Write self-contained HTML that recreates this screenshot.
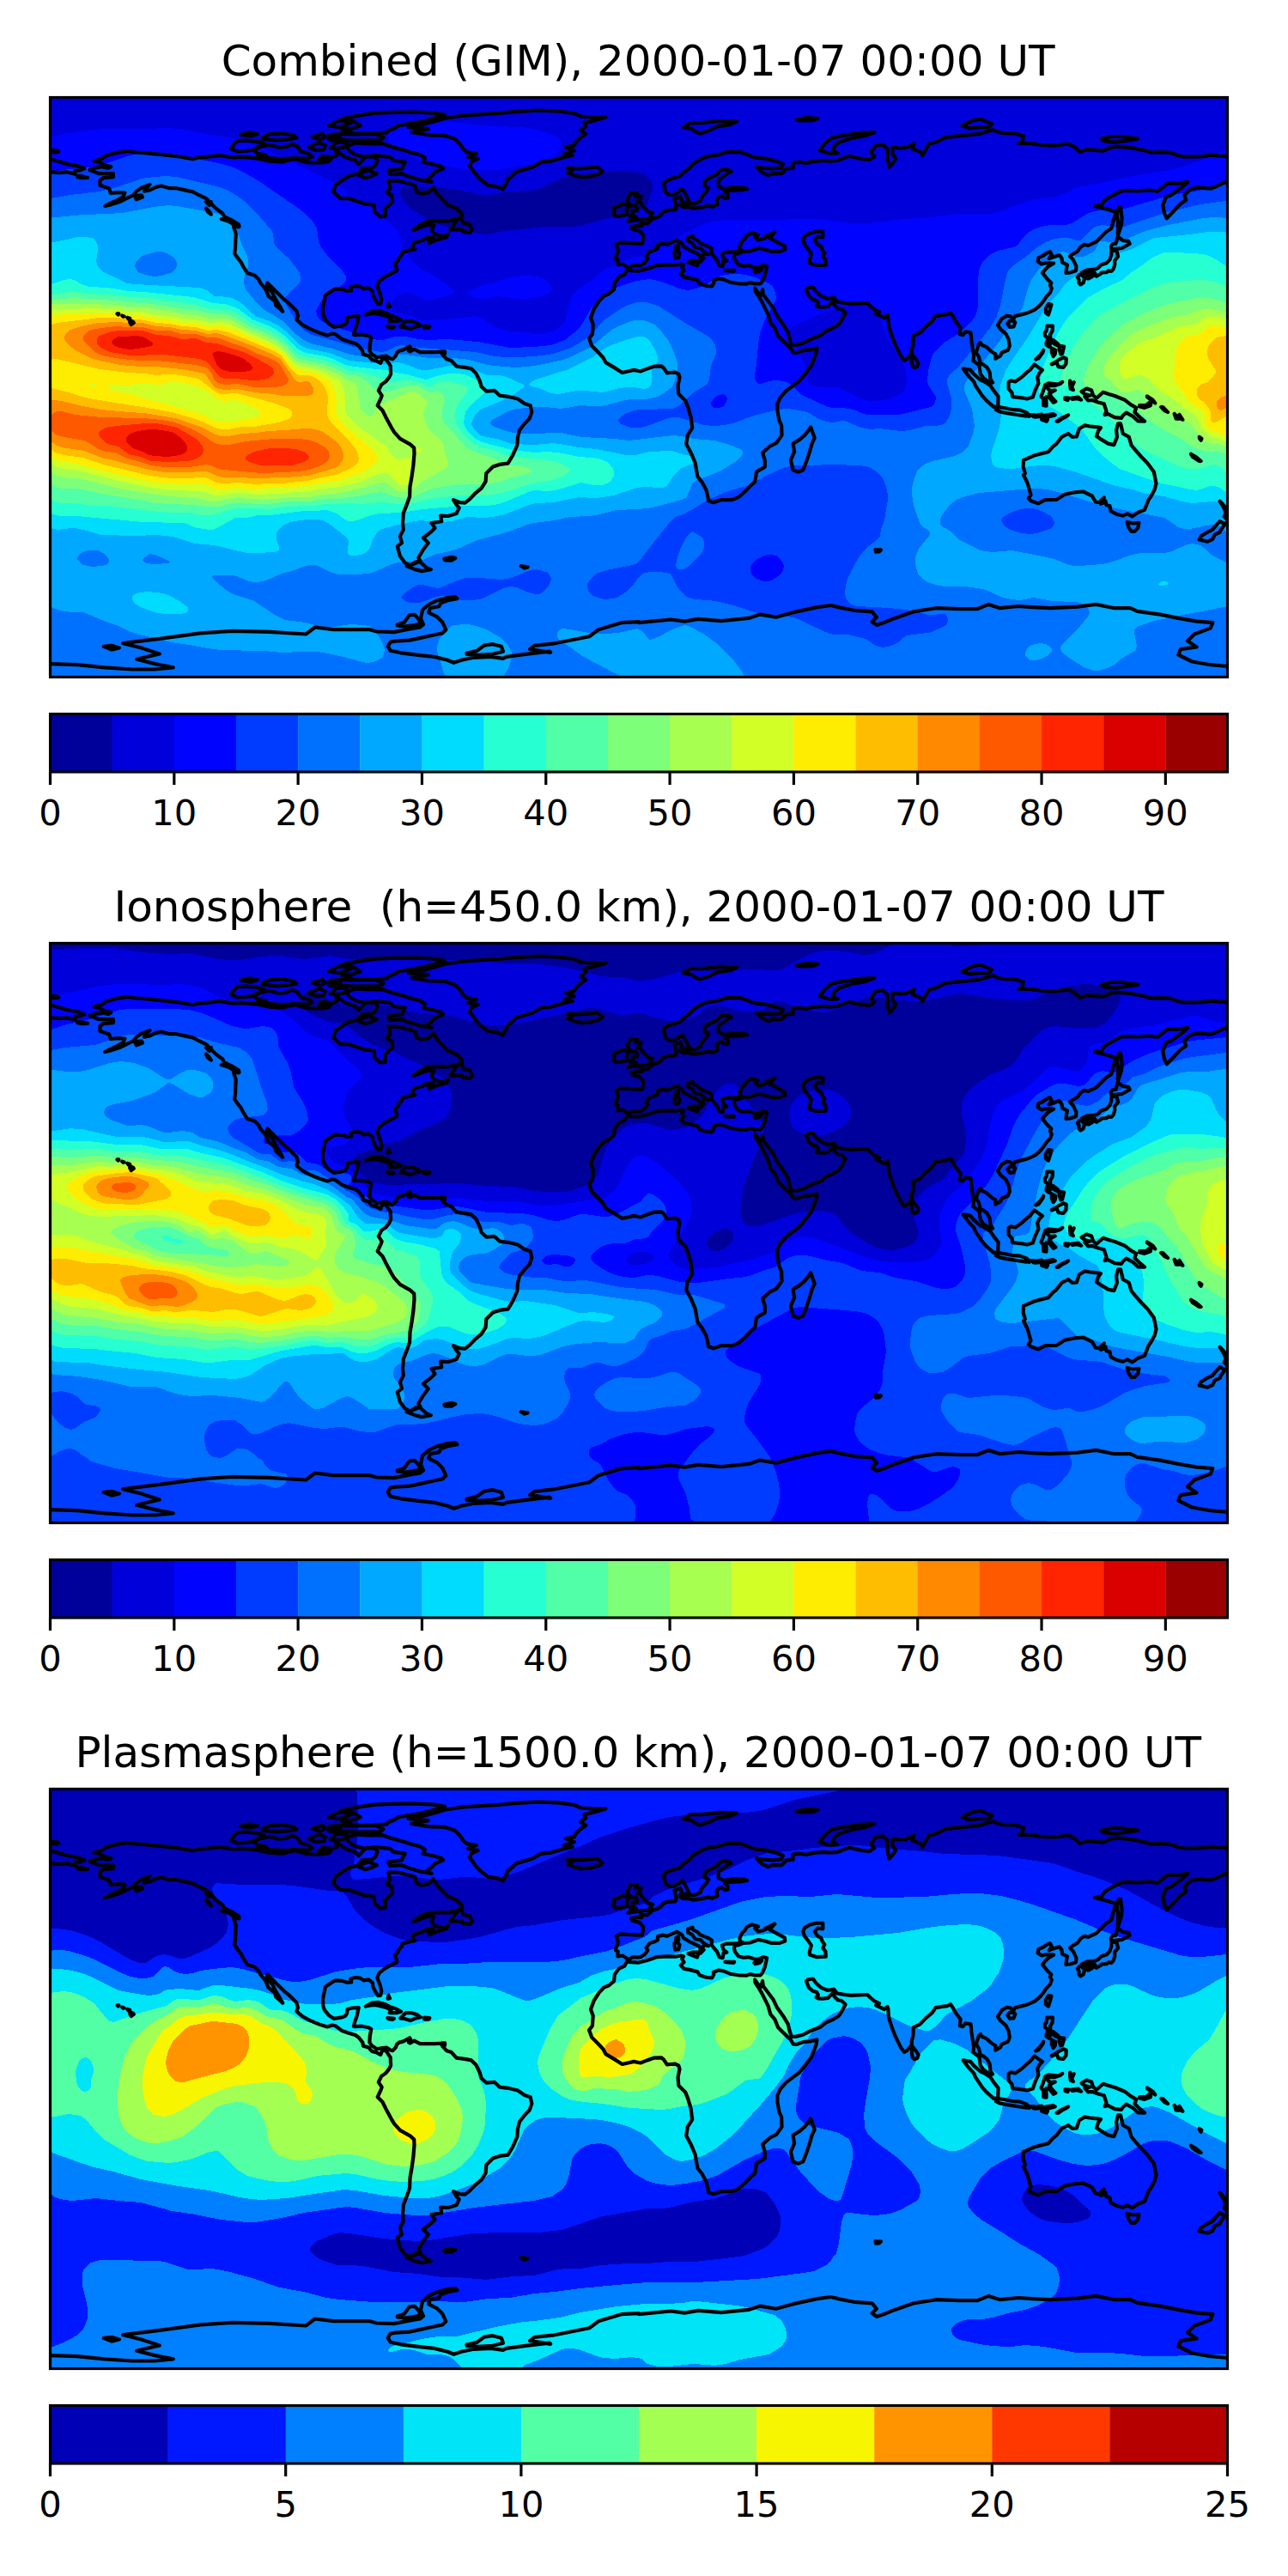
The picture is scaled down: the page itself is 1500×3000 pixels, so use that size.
<!DOCTYPE html>
<html><head><meta charset="utf-8"><title>GIM maps</title>
<style>
html,body{margin:0;padding:0;background:#fff;}
svg{display:block;}
.tt{font-family:"DejaVu Sans","Liberation Sans",sans-serif;font-size:50px;text-anchor:middle;fill:#000;}
.tl{font-family:"DejaVu Sans","Liberation Sans",sans-serif;font-size:41.67px;text-anchor:middle;fill:#000;}
</style></head><body>
<svg xmlns="http://www.w3.org/2000/svg" width="1500" height="3000" viewBox="0 0 1500 3000"><defs><clipPath id="m0"><rect x="58.5" y="113.5" width="1371" height="675"/></clipPath><clipPath id="m1"><rect x="58.5" y="1098.5" width="1371" height="675"/></clipPath><clipPath id="m2"><rect x="58.5" y="2083.5" width="1371" height="675"/></clipPath></defs><defs><clipPath id="mc"><rect x="58.5" y="113.5" width="1371" height="675"/></clipPath>
<path id="coast" fill="none" stroke="#000" stroke-width="4.2" stroke-linejoin="round" stroke-linecap="round" d="M104.5 198 110.6 195.7 118.4 194.1 126.1 196 129.2 194.1 121.5 192.2 114.9 188.7 109.5 187.4 118.4 184.9 124.2 181 135.7 177.9 148.1 176 158.9 177.5 166.6 177.9 178.2 179.1 193.7 180.6 209.1 182.5 224.6 185.2 232.3 183.3 240 182.9 255.5 181 267 182.9 272.8 183.3 278.6 182.9 290.2 183.3 301.8 184.9 313.4 187.6 328.8 188.7 336.6 186.4 344.3 185.2 355.9 188.7 363.6 189.5 375.2 189.5 382.9 187.9 386.8 182.9 392.6 181 390.6 174.1 398.4 180.2 402.2 182.9 413.8 186.8 417.7 191.4 423.5 184.9 427.3 181.8 437 182.9 439.7 186.4 437 192.6 433.1 195.7 421.5 196.4 417.7 202.2 406.1 205.3 398.4 209.9 390.6 215.7 388.3 223.4 396.4 231.1 406.1 231.1 417.7 235 425.4 237.7 435.8 238.5 436.2 246.6 442.8 252.4 448.6 252 448.6 242.7 457.1 235 456.3 227.3 450.5 224.2 454.4 219.6 452.4 210.7 464 210.7 475.6 213.8 483.3 215.7 485.2 223.4 491 225.4 498.8 224.2 504.6 218.4 510.4 227.3 516.1 233.1 521.9 238.9 531.6 242.7 537.4 248.5 538.2 252.4 531.6 255.1 521.9 257.4 506.5 257.4 496.8 258.1 489.1 262 481.4 267.8 487.2 265.9 498.8 261.6 505.3 262.4 502.6 267.8 504.6 271.6 510.4 274 518.1 275.1 521.9 272.8 520 276.3 508.4 279.4 499.9 283.2 498.8 279.4 504.6 276.3 496.8 276.7 493 279.4 487.2 281.3 482.5 282.8 480.6 286.3 481.4 289.8 483.3 290.2 477.5 291.3 468.6 293.6 467.9 296.7 464.4 301 463.6 303.3 460.1 307.1 462.1 312.9 462.1 315.2 458.2 317.2 452.4 320.2 447.8 322.9 441.6 327.6 439.3 333.4 442.4 341.1 444.3 348.8 443.2 353.8 440.4 354.2 437.7 350.3 434.3 343.8 433.9 339.1 429.2 335.3 423.8 336.4 419.6 333.7 413.8 333 408.4 334.5 409.2 338.4 404.1 338.8 398.4 336.8 390.6 336.4 386.8 338.4 379 343.8 377.5 350.7 376 358.4 376.3 366.1 377.9 370.8 382.9 376.9 388.7 380.8 398.4 379.3 402.2 377.7 404.1 374.6 404.5 370 409.9 368.5 417.7 368.1 416.1 375.8 414.6 380.8 413 385.4 411.9 389.7 413.8 390.1 421.5 389.7 429.2 391.2 432.3 393.1 430.8 400.9 430.4 408.6 433.1 412.4 438.9 416.3 445.1 415.1 450.5 414.7 454.7 417.4 457.4 418.2 460.9 414.4 462.1 410.9 464.8 408.6 469.8 407.4 474.8 404.7 477.1 403.2 478.3 405.5 476 408.6 477.5 409.3 482.5 406.6 489.1 410.1 498.8 410.1 506.5 410.1 514.2 409.7 515.4 413.2 520 418.2 525.8 420.1 531.6 426.7 541.2 427.9 549 429.4 554.4 434.8 558.6 443.3 560.6 450.2 566.3 455.6 576 454.9 581.8 460.6 591.5 461.8 603 464.5 610.8 469.9 617.7 472.2 619.3 479.9 616.6 487.6 610.8 493.4 605 501.1 603 508.9 602.3 518.5 597.2 530.1 591.5 539.7 581.8 540.9 574.1 543.6 566.3 551.3 565.6 560.9 560.6 568.6 552.8 575.2 547 581.4 541.6 585.6 535.5 585.2 528.1 582.1 531.6 587.9 534.7 591.4 531.6 598 521.9 601 513.1 600.7 514.2 607.2 502.6 609.1 506.5 614.9 502.6 618.8 493 626.5 498.8 632.3 493 640 487.2 649.6 489.5 653.1 483.3 654.7 477.5 658.5 471.7 655.4 465.9 647.7 462.8 636.1 467.9 632.3 465.9 624.6 469.8 616.9 469 609.1 469.8 597.6 473.7 587.9 477.1 578.3 477.5 566.7 479.5 555.1 481.4 541.6 482.5 528.1 482.2 521.6 477.5 517.3 465.9 510.8 459 503.1 455.5 497.3 449.3 485.7 445.5 478 439.7 472.2 443.5 464.1 444.7 460.6 440.8 454.9 444.3 447.9 449.3 444.4 453.2 439.4 455.1 435.6 454.7 425.9 452.4 422.8 450.5 419.4 446.6 416.7 444.7 419.4 443.2 422.8 438.1 420.1 433.1 419 429.2 414.4 423.1 412.8 422.3 408.6 417.7 402.8 413.8 400.1 406.1 397.8 398.4 395.1 390.6 389.3 386.8 388.5 381 390.4 373.3 388.1 367.5 385.8 359.7 382.3 352 378.1 345.4 372.3 347 368.1 345.4 362.3 336.6 353.4 330.8 348.8 325 343 319.2 337.2 311.5 329.5 310.3 333.4 317.3 341.1 321.1 348.8 326.5 357.7 329.2 362.7 326.9 360.4 321.1 355.3 320.3 350.7 312.6 344.9 309.5 337.2 303.3 329.5 301.4 325.6 296.4 320.6 287.9 317.9 282.9 309.8 280.6 305.2 275.5 298.6 273.2 295.2 274 289 274.4 279.4 274.8 272.4 272.1 264.3 278.6 263.9 277.9 261.2 270.9 257 261.3 252.4 259.3 248.5 251.6 242.7 247.7 238.9 240 231.1 230.4 226.5 224.6 223.4 214.1 221.1 205.3 219.2 197.5 219.2 187.9 216.5 182.1 217.6 174.4 221.5 167.8 222.7 174.4 214.9 164.7 218.8 158.9 222.7 155 227.3 147.3 231.1 139.6 235 129.9 238.1 122.2 240 128 236.9 135.7 233.5 143.5 229.2 145.4 224.6 137.7 224.2 128.8 225 127.2 219.6 116.4 215.7 116.4 209.9 120.3 207.2 131.9 206.1 131.9 202.2 124.2 202.2 114.9 202.2 110.6 200.3 104.5 198M879.2 335.7 879.6 339.1 883.4 344.9 886.9 350.7 890.8 358.4 894.6 366.1 897.3 375.8 902.3 381.6 906.2 391.2 912 397 917.8 402.8 920.9 405.5 923.6 410.5 927.4 410.9 935.2 408.2 942.9 407.4 951.4 405.5 950.6 410.9 948.7 416.3 944.8 425.9 939 433.6 931.3 443.3 923.6 449.1 915.9 454.9 908.9 462.6 905.4 470.3 905.4 478 907.4 489.6 910.1 495.4 910.5 506.9 904.3 515.8 896.5 519.7 888.1 527.4 890.8 535.9 890.8 543.6 881.1 549.4 880.3 554.4 879.2 560.9 873.4 566.3 867.6 572.5 859.9 579.1 852.5 582.1 840.5 582.1 830.9 585.2 825.1 583.3 824.3 578.3 822.4 570.6 817.4 561.3 812.4 555.1 809.7 539.3 805 528.1 799.2 517.3 800.8 506.9 806.2 498.4 804.6 485.7 801.2 474.1 798.1 466.4 790.3 458.7 789.6 449.1 791.5 439.4 790.3 435.6 786.5 433.6 780.7 434 776.8 434.4 773 428.6 770.3 426.3 761.4 426.7 753.7 429.4 745.9 432.5 738.2 430.9 724.7 434 715 427.9 705.4 422.1 702.3 416.3 695.7 409.3 689.2 402.8 686.1 394.3 689.9 389.3 690.7 377.7 688 370 691.9 359.6 697.7 350.7 703.4 344.5 709.2 342.2 715 337.2 715.8 329.5 720.8 322.6 727.4 319.5 730.9 312.9 734.3 315.2 744 315.6 753.7 312.9 765.2 309.1 776.8 308.3 786.5 308.7 793 307.5 796.1 308.3 794.2 311.4 796.5 315.2 792.7 318.7 796.9 322.9 803.9 324.1 812.4 326.4 814.7 330.3 823.2 333 829.3 333.4 831.3 329.5 830.9 326.8 836.7 324.5 842.5 325.3 850.2 328.7 859.9 330.3 869.1 330.7 873.4 329.1 878.4 330.3 885.7 330.3 888.1 327.2 890.8 320.6 892.3 314.1 893.1 310.2 888.8 309.1 885 311 879.2 311.8 871.8 309.1 865.7 309.8 859.9 308.3 856 302.9 854.8 298.6 856 295.9 859.9 295.2 865.7 292.9 873.4 292.5 883 289 890.8 290.5 898.5 292.9 908.1 292.9 914.3 290.5 913.9 286.7 908.1 283.6 900.4 279.4 896.5 277.4 902.3 270.5 890.8 275.9 892.7 276.3 888.8 278.2 883 279.4 879.2 275.9 883 273.6 875.3 271.3 869.5 274.3 868 277.4 864.1 281.3 861.4 287.1 861.8 290.5 865.7 292.5 854.1 293.6 846.3 293.6 842.5 294.8 840.9 295.6 842.5 300.6 846.3 303.7 842.5 304.8 841.7 310.2 837.5 309.1 835.9 304.8 834.8 302.5 831.7 299 828.6 294.8 829 289.8 825.1 287.1 815.4 283.2 812.4 280.1 806.6 277 806.6 274.7 801.2 276.3 801.2 280.5 805.8 282.8 809.7 288.2 816.2 289.4 819.3 292.9 825.1 296.3 820.1 295.2 817.4 298.6 819.7 300.6 815.8 304.8 814.3 303.3 816.2 300.6 813.9 296.3 809.7 294.4 803.9 291.7 800.8 289.8 796.1 287.1 794.2 283.2 788.4 279.7 782.6 282.1 776.8 284.8 772.2 283.6 766 285.1 766 289.4 762.2 291.3 756.7 292.9 752.5 298.6 754.4 301.3 751 306 745.5 309.4 736.7 309.4 732 312.1 729.3 310.2 725.1 307.5 719.3 308.3 719.7 302.5 717 301.3 717.4 298.6 719.7 292.9 719.3 289 717.7 285.1 722.8 282.4 734.3 283.2 742.1 283.6 747.9 283.6 749 279 749 273.6 744.8 268.9 736.3 266.6 735.1 264.3 742.1 262.8 747.5 263.2 746.3 259.3 749.8 260.5 754.4 260.1 759.8 254.7 765.2 253.1 769.1 250.8 772.2 247 776.8 245 780.7 244.6 786.5 244.3 787.3 242.7 786.9 236.9 785.3 231.9 792.3 228.8 794.2 233.1 791.5 238.9 795.8 241.2 801.9 241.2 807.7 242.7 815.4 241.6 825.1 239.6 829.3 240.8 835.5 238.1 834.8 233.1 836.7 229.2 840.9 228.4 844.4 231.1 847.9 230.4 847.5 226.1 844.4 223.8 849 221.9 861.8 221.5 870.3 220 865.7 218.8 856 218 842.5 220 836.7 216.9 836.7 209.9 848.3 201.1 851.7 199.9 846.3 197.2 839.4 198 834.8 203.4 827 206.8 821.2 210.7 820.1 215.7 825.1 218.8 823.2 222.3 817.4 229.2 815.4 234.2 808.5 237.3 803.5 236.9 801.9 233.1 799.6 228.4 796.9 223.4 794.2 220 790.3 223.4 784.6 226.9 778.8 226.5 774.9 223.4 773.7 218 773 213.8 776.8 209.9 784.6 207.2 792.3 204.9 796.1 200.7 801.9 196.4 807.7 190.6 813.5 186.8 821.2 182.9 827 181.8 836.7 180.2 846.3 177.1 853.3 176.8 861.8 177.1 871.4 180.2 875.3 182.2 881.1 183.7 892.7 184.9 904.3 187.9 912 191 910.1 195.3 900.4 196.4 888.1 195.7 881.1 194.1 886.9 200.3 894.6 204.1 900.4 201.8 910.1 202.2 915.9 196.4 923.6 195.7 923.6 189.5 931.3 188.7 939 189.9 946.8 187.9 960.3 186.8 966.1 187.6 975.7 186.8 985.4 182.9 989.2 181.8 1002.8 184.9 1012.4 186 1018.2 182.2 1014.3 177.1 1020.1 169.4 1027.9 168.3 1033.6 173.3 1033.6 184.9 1035.6 194.5 1039.4 190.6 1043.3 184.9 1039.4 179.1 1039.4 171.4 1047.2 172.5 1054.9 172.1 1064.5 167.5 1062.6 173.3 1072.3 177.1 1074.2 181 1081.9 167.5 1089.6 165.6 1101.2 159.8 1120.5 157.9 1139.9 155.9 1156.5 151.3 1163 154 1170.7 155.2 1182.3 155.5 1192 158.6 1190.1 165.6 1186.2 166.7 1201.6 167.1 1213.2 169 1228.7 169.4 1244.1 167.5 1251.8 171.4 1257.6 177.1 1265.4 174.1 1275 174.8 1284.7 175.6 1294.3 171.4 1302.1 170.6 1317.5 172.1 1333 175.2 1340.7 177.5 1352.3 177.1 1363.8 177.9 1371.6 181 1379.3 182.5 1390.9 182.5 1402.5 181.8 1410.2 180.6 1417.9 181.4 1429.5 181.8 1443 183.3 1448.8 185.2M58.5 185.2 68.2 187.9 77.8 191 89.4 193 97.1 195.7 98.3 196.4 93.3 198.4 87.5 198.7 87.5 202.6 77.8 200.3 68.2 201.1 62.4 200.3 58.5 200.3M1448.8 200.3 1443 202.2 1439.2 209.9 1425.6 212.6 1417.9 216.5 1410.2 219.6 1394.7 218.4 1387 220.3 1383.2 223.4 1379.3 227.3 1381.2 233.1 1375.4 236.9 1371.6 240.8 1365.8 247 1358.8 254.3 1356.1 248.5 1354.2 238.9 1358.1 229.2 1363.8 227.3 1371.6 221.5 1377.4 217.6 1383.2 211.9 1371.6 213.8 1360 213.4 1348.4 222.7 1336.8 221.5 1325.2 222.3 1313.6 221.9 1305.9 222.3 1296.3 227.3 1286.6 233.1 1282.7 238.9 1275 240 1288.5 243.5 1298.2 246.6 1299.4 248.5 1296.3 258.1 1294.3 265.9 1288.5 269.7 1282.7 275.5 1277 281.3 1267.3 285.9 1262.7 284.8 1258.4 287.8 1254.6 292.9 1248 296.7 1246.1 298.6 1249.9 302.5 1253.4 310.2 1253 315.2 1246.1 317.5 1241.4 317.9 1242.2 312.1 1243 308.3 1237.2 305.6 1236.4 300.6 1233.7 297.1 1226.7 299.4 1221.7 301.3 1224.8 296.7 1222.9 293.2 1219 294.8 1215.2 297.5 1209.4 300.2 1208.6 304.4 1213.2 307.5 1217.1 306.4 1222.9 306.4 1227.1 306.7 1221 310.2 1217.1 314.1 1214 317.9 1220.2 325.6 1224.4 329.5 1222.9 332.2 1224.8 335.7 1222.9 341.1 1219 344.9 1215.2 350.7 1211.3 355.3 1205.5 360.4 1199.7 363.1 1194.7 365 1190.1 366.1 1182.3 368.1 1179.6 372.7 1177.3 368.5 1172.7 367.7 1166.9 370.8 1165 373.9 1161.9 378.5 1165.3 383.5 1171.5 388.9 1174.6 395.1 1175.8 402.8 1173.8 407.8 1166.9 410.5 1165 414.4 1159.2 417.8 1159.5 412.4 1156.1 410.5 1151.4 406.6 1148.7 403.9 1143.7 402 1141.8 398.9 1139.9 400.9 1136.8 410.5 1139.9 415.5 1141.8 423.2 1145.6 424.8 1149.5 427.9 1152.6 433.6 1153.4 441.4 1156.1 445.6 1153.4 446 1149.5 443.3 1144.9 439.8 1141.8 435.6 1141 429.8 1140.6 425.9 1138.7 424 1133.3 420.1 1134.1 414.4 1132.9 406.6 1131.4 397 1130.6 387.4 1124.4 386.2 1121.3 390.1 1117.8 389.3 1118.6 381.6 1112.8 373.9 1109.7 368.1 1107 364.2 1103.2 366.1 1097.4 366.9 1089.6 368.1 1085.8 373.9 1078.1 380.4 1071.5 387.4 1063.8 391.2 1063.4 400.9 1061.8 406.6 1061.8 411.7 1058.8 415.1 1055.7 418.6 1053 419.8 1049.1 414.4 1045.2 406.6 1042.5 400.9 1038.7 391.2 1035.6 381.6 1034.8 377.7 1034.4 370 1033.6 366.9 1029.8 370 1020.1 365.4 1024 363.1 1018.2 360.4 1012.4 355.3 1010.5 353 1000.8 353.4 991.2 353.8 981.5 352.6 974.9 351.5 971.1 346.5 964.1 348 956.4 344.9 950.6 339.9 946.8 334.5 941 335.3 939 337.2 942.1 344.9 946.8 348.8 951.4 350.3 952.9 353.4 950.6 356.1 952.5 357.3 958.3 357.7 964.1 356.9 968 353 971.1 349.9 971.5 355 975.7 359.2 980 360 984.6 364.2 980.7 371.9 976.9 377.7 969.9 382 962.2 385.4 955.2 390.8 944.8 394.7 935.2 399.7 927.4 401.6 921.7 402 919.3 393.9 917.8 387.4 912 377.7 905 368.1 900.4 358.4 894.6 350.7 888.8 343 888.1 337.2 886.1 343.8 883 341.1 879.2 335.7M935.2 279.4 937.1 285.1 941 289.8 944.8 295.6 942.9 302.5 942.9 306.4 950.6 309.1 961.8 308.7 961.4 302.5 958.3 298.6 960.3 294.8 957.6 290.9 956.4 287.1 951.8 284.4 948.7 279.4 952.5 275.5 958.3 276.3 958.3 269.7 950.6 269.7 942.9 271.6 937.1 275.1 935.2 279.4M58 773.1 89.9 774.2 121.9 777.4 153.8 779.5 180.5 779.5 201.8 777.4 180.5 773.1 159.2 767.8 185.8 761.4 164.5 754.5 143.2 749.2 185.8 743.8 233.7 737.4 271 734.8 313.6 735.8 356.2 738.5 366.8 730.5 388.1 733.2 430.7 733.2 438.5 735.5 458.7 736.1 474.9 732.9 489 730.5 493 727.4 490 720.4 492 710.3 499.1 704.2 509.2 699.2 521.3 696.1 530.4 695.1 532.4 697.2 521.3 699.2 513.2 702.2 511.2 706.2 501.1 708.3 499.1 713.3 509.2 718.4 515.2 724.4 519.3 733.5 515.2 737.5 505.2 739.5 491 742.6 476.9 745.6 460.7 746.6 454.7 747.6 451.7 752.7 454.7 757.7 466.8 760.3 487 762.8 505.2 764.8 521.3 768.8 528.4 771.8 537.4 768.8 551.6 765.8 571.8 764.8 585.9 766.8 589.9 764.8 612.1 761.8 640 758.7 641.1 759.8 617.1 756.1 622.4 751.8 643.7 749.7 686.3 741.2 697 733.2 723.6 725.2 743.8 724.1 744 725.2 781.3 721.5 797.2 723.6 813.2 720.9 839.8 723.1 871.8 719.9 885.1 715.6 903.7 718.8 925 712.9 951.7 707.1 967.6 705 978.3 707.6 994.3 710.8 1015.6 712.4 1020.9 718.8 1015.6 724.1 1020.9 727.9 1028.9 725.2 1042.2 719.9 1063.5 712.4 1090.1 708.2 1116.7 709.2 1138 709.2 1151.3 703.9 1164.7 708.2 1186 706 1201.9 707.1 1223.2 708.2 1255.2 706.6 1276.5 703.9 1297.8 708.2 1316.4 708.2 1324.4 711.9 1351 715.6 1372.3 719.9 1393.6 723.6 1412.3 725.2 1409.6 731.6 1391 738.5 1383 746.5 1393.6 753.4 1375 756.1 1372.3 762.5 1388.3 770.5 1409.6 774.2 1433.6 776.3M462.8 727.4 470.8 724.8 476.9 716.3 482.9 715.9 487 720.4 490 726.4 480.9 728.4 470.8 729.5 462.8 728.4 462.8 727.4M543.5 760.7 555.6 757.7 563.7 751.7 573.8 750.2 583.9 752.7 585.9 758.7 573.8 761.8 557.6 762.8 543.5 761.8 543.5 760.7M120.8 752.9 129.9 751.8 138.9 754.5 129.9 756.6 120.8 752.9M269 173.3 272.8 167.5 276.7 164 286.4 163.6 299.9 164.8 307.6 167.5 301.8 170.6 294.1 174.8 284.4 176 276.7 176.4 269 173.3M296 175.2 299.9 178.7 309.5 180.2 299.9 181.4 315.3 184.1 328.8 185.2 344.3 184.1 357.8 184.9 363.6 182.5 359 178.7 350.1 176.4 346.2 170.2 340.4 167.9 332.7 171 325 171.7 313.4 168.7 301.8 171.4 296 175.2M280.6 156.7 290.2 154.4 299.9 156.3 292.1 158.6 280.6 156.7M305.7 159.8 313.4 156.3 328.8 155.2 342.4 157.9 345.4 160.6 334.6 162.5 321.1 163.3 305.7 161.7 305.7 159.8M363.6 159.4 375.2 155.9 379 159.4 373.3 162.5 363.6 159.4M382.9 161.7 392.6 160.6 392.6 163.3 384.8 163.3 382.9 161.7M396.4 162.5 413.8 163.6 429.2 163.3 442.8 163.3 446.6 160.2 437 155.9 409.9 156.3 398.4 155.9 382.9 157.1 396.4 159.8 396.4 162.5M409.9 155.9 433.1 155.9 450.5 154.4 452.4 152.1 460.1 149 464 146.3 475.6 144.4 487.2 142.4 498.8 139.7 510.4 136.6 518.1 133.9 504.6 131.6 483.3 130.5 456.3 130.9 437 131.6 421.5 133.9 402.2 137.4 394.5 140.5 413.8 142.4 419.6 146.3 411.9 149.4 398.4 150.9 408 152.8 409.9 155.9M382.9 146.3 396.4 139.7 406.1 138.6 411.9 141.3 404.1 145.5 394.5 148.2 382.9 146.3M384.8 172.1 392.6 165.6 404.1 165.6 401.4 171.4 391.4 173.3 384.8 172.1M359.7 171.4 371.3 166.3 379 169.4 377.1 174.1 367.5 175.2 359.7 171.4M371.3 185.6 382.9 186.8 384.8 182.9 375.2 181.8 371.3 185.6M502.6 211.9 491 209.9 477.5 206.1 467.9 202.2 454.4 203 452.4 198.7 467.9 196.4 471.7 188.7 458.2 186.8 454.4 182.9 444.7 181.8 437 181 425.4 182.9 413.8 180.2 406.1 175.2 404.1 170.2 413.8 166.3 429.2 167.5 444.7 167.1 456.3 171 471.7 175.2 479.5 177.9 489.1 180.2 494.9 184.1 493 188.7 506.5 191.8 514.2 194.1 516.1 196.4 506.5 200.3 502.6 204.9 496.8 209.2 502.6 211.9M417.7 204.1 423.5 200.3 429.2 198.4 438.9 202.2 433.1 204.9 425.4 207.2 417.7 204.1M585.7 220.3 579.9 217.6 568.3 215.7 560.6 209.9 554.8 204.1 550.9 198.4 547 193.3 549 188.7 556.7 184.9 545.1 182.9 554.8 179.1 543.2 177.1 539.3 173.3 535.5 167.5 529.7 161.7 518.1 157.9 498.8 157.1 479.5 154 498.8 150.1 475.6 148.2 494.9 144.4 506.5 141.3 518.1 137.8 537.4 134.7 560.6 133.2 579.9 132 599.2 130.1 626.2 128.5 649.4 129.3 668.7 132 676.4 135.5 691.9 136.6 705.4 136.6 691.9 140.5 680.3 143.2 682.2 147.1 676.4 152.1 682.2 155.9 676.4 159.8 670.6 165.6 668.7 169.4 659 171.4 668.7 175.2 657.1 179.1 666.8 181 657.1 182.9 641.7 187.6 630.1 188.7 620.4 194.5 610.8 197.2 601.1 200.3 597.2 204.1 591.5 208.8 589.5 213.8 585.7 220.3M668.7 204.1 661 201.1 666.8 198.4 661 195.7 674.5 196.4 684.1 195.7 695.7 194.5 701.5 199.5 697.7 202.6 688 205.3 676.4 206.1 668.7 204.1M731.6 257.8 738.2 256.6 747.9 255.4 757.5 254.3 759.1 252.7 756.7 252 760.2 247.7 754.8 246.6 752.9 244.3 747.5 238.9 745.9 235.4 742.1 235 745.9 231.1 746.7 228.8 740.1 228.4 742.1 225 734.3 225 732.4 229.2 730.5 233.1 732.4 236.9 735.1 239.6 740.1 239.2 742.1 242.7 742.1 245.4 736.3 245.4 737.4 249.3 733.6 251.6 740.9 252.7 736.3 254.3 731.6 257.8M730.5 249.7 729.7 244.6 732 240.8 728.6 238.1 724.7 237.7 720.8 240 715 241.9 715.8 244.6 714.3 249.7 717 252 722.8 251.6 730.5 249.7M796.1 148.2 803.9 143.2 817.4 143.2 827 142 838.6 140.9 857.9 141.7 850.2 145.1 834.8 147.4 825.1 152.1 815.4 155.5 809.7 153.2 805.8 150.1 796.1 148.2M954.5 175.2 960.3 167.5 968 160.9 977.6 158.6 989.2 156.7 1000.8 154.8 1018.2 154 1008.5 157.9 991.2 160.9 977.6 165.6 971.9 169.4 969.9 176 975.7 178.3 966.1 178.7 954.5 175.2M1120.5 146.3 1132.1 140.5 1141.8 138.6 1155.3 144.4 1151.4 148.2 1139.9 148.2 1128.3 149.4 1120.5 146.3M1282.7 161.7 1294.3 159 1305.9 159 1317.5 160.6 1325.2 161.7 1313.6 163.6 1298.2 165.6 1286.6 164.4 1282.7 161.7M927.4 139.3 939 137 952.5 137.8 946.8 140.1 931.3 140.5 927.4 139.3M58.5 175.2 66.2 175.2 68.2 176.8 62.4 177.5 58.5 177.1M1294.3 290.9 1299 289.8 1306.7 289 1315.6 284 1314.4 280.9 1307.8 280.1 1301.7 275.5 1300.1 281.3 1299.4 284 1295.5 284.4 1293.9 287.1 1294.3 290.9M1300.1 290.9 1302.1 298.6 1298.2 303.3 1298.2 308.3 1296.6 313.3 1294.3 316 1291.2 315.2 1288.5 317.2 1282.7 317.5 1282 318.7 1277 321.8 1275 317.9 1267.3 317.9 1259.6 319.9 1259.6 317.5 1265.4 314.5 1275 313.7 1278.9 312.1 1282.7 308.3 1288.5 306.4 1292.4 302.5 1294.3 296.7 1294.3 292.9 1300.1 290.9M1265.4 323.7 1267.3 319.9 1273.1 319.1 1273.9 320.6 1271.2 322.6 1267.3 324.5 1265.4 323.7M1254.9 322.9 1256.9 320.2 1259.6 320.2 1263.4 323.7 1261.5 329.5 1258.4 331.4 1256.5 329.5 1256.5 325.6 1254.9 322.9M1302.1 273.6 1304 267.8 1305.9 262 1306.7 254.3 1305.9 248.5 1305.1 241.9 1303.2 241.6 1301.3 246.6 1300.9 252.4 1302.1 258.1 1302.1 265.9 1301.7 271.3 1302.1 273.6M1217.9 364.2 1221 366.5 1222.9 360.4 1224.4 354.6 1221 354.2 1217.9 359.2 1217.9 364.2M1173.5 376.9 1175.8 380.8 1180.4 380.4 1182.3 375.4 1180.4 373.5 1175.8 373.9 1173.5 376.9M1219.4 379.6 1226 379.6 1225.6 385.4 1222.9 390.1 1223.7 395.8 1226.7 396.2 1232.5 400.9 1232.5 402.8 1228.7 400.9 1224 397.8 1219.4 397 1220.6 393.9 1217.1 391.2 1216.7 387.7 1218.6 385.4 1219.4 379.6M1224.8 424 1230.6 420.9 1232.5 419.4 1238.3 416.3 1241.8 417.8 1241.4 424 1238.3 427.9 1232.5 427.1 1230.6 422.1 1225.2 424.4 1224.8 424M1233.7 402.8 1239.1 403.6 1237.2 411.7 1235.2 412.4 1233.7 406.6 1233.7 402.8M1224.8 405.5 1229.4 407.8 1228.7 412.4 1226.7 415.1 1224.8 410.5 1224.8 405.5M1218.6 398.9 1222.9 400.9 1221.7 403.9 1218.6 401.6 1218.6 398.9M1206.3 418.6 1211.7 413.2 1215.2 407.8 1214.4 410.5 1209.4 417.4 1206.3 418.6M1121.7 429.4 1130.2 430.9 1134.1 435.6 1141.8 442.5 1145.6 444.1 1153.4 449.1 1157.2 454.9 1162.6 461.8 1162.3 468.4 1162.3 473.4 1157.2 473.8 1148.7 466.4 1143.7 460.6 1139.9 454.9 1136 449.1 1134.1 444.4 1128.3 438.3 1121.7 429.4M1159.9 477.2 1163 474.1 1170.7 475.3 1180.4 477.2 1188.1 477.6 1195.9 480.7 1195.5 484.6 1184.3 483 1172.7 481.1 1164.6 479.5 1159.9 477.2M1197.8 482.6 1200.5 483.4 1198.6 484.9 1197.8 482.6M1201.6 483.4 1204.3 483 1203.6 485.3 1201.6 483.4M1205.5 483.8 1213.2 482.6 1213.2 484.9 1205.5 485.7 1205.5 483.8M1216.3 483.8 1226.7 482.2 1228.7 483.4 1222.9 484.9 1216.3 484.9 1216.3 483.8M1213.2 487.6 1220.2 488 1219 490.7 1213.2 488.8 1213.2 487.6M1230.6 490.7 1236.4 486.9 1244.1 483.4 1242.2 484.9 1236.4 488 1232.5 490.7 1230.6 490.7M1174.6 445.2 1176.9 443.3 1182.3 444.4 1190.1 439 1195.9 433.6 1199.7 430.6 1204.7 424.4 1209.4 427.9 1214 430.9 1210.5 434.4 1208.2 439.4 1209.4 446.4 1207.4 450.2 1205.1 455.6 1202.8 462.6 1195.9 464.5 1190.1 463.3 1184.3 462.6 1179.2 462.2 1178.5 457.2 1174.6 452.9 1174.6 445.2M1215.2 472.2 1218.6 472.6 1218.3 462.2 1221 461.4 1226.7 468.7 1229.4 467.6 1224.8 462.6 1222.1 458.3 1228.7 454.5 1222.9 455.2 1217.9 449.8 1219 449.1 1228.7 449.1 1234.5 447.1 1237.2 444.8 1232.5 447.5 1221 446.4 1217.1 448.3 1216.3 451.4 1214.4 456.8 1212.5 461.8 1215.2 464.5 1215.2 472.2M1246.1 443.7 1248 447.1 1250.7 445.2 1248 451 1249.9 454.1 1246.8 452.9 1246.1 447.9 1246.1 443.7M1248 463.7 1255.7 462.6 1259.2 465.7 1253.8 464.1 1248.8 464.9 1248 463.7M1240.3 463.3 1244.9 463.7 1243.4 466 1240.3 464.9 1240.3 463.3M1259.6 456 1265.4 452.5 1271.2 454.5 1273.1 460.6 1277 463.7 1284.7 456.8 1290.5 458.7 1298.2 461 1309.8 465.7 1316.7 471.1 1323.3 474.9 1321.4 479.9 1327.2 485.7 1333 490.7 1325.2 490.3 1319.4 484.9 1311.7 480.7 1307.8 483.8 1305.9 486.9 1298.2 486.1 1290.5 482.2 1286.6 483 1288.5 478.8 1285.8 470.3 1278.9 468.4 1271.9 466 1267.3 466.4 1263.4 461.8 1269.2 460.6 1263.4 459.1 1259.6 456M1327.2 472.2 1334.9 471.8 1340.7 467.2 1339.9 472.2 1333 474.9 1327.2 473.4 1327.2 472.2M1336 461.4 1342.6 465.7 1345.3 469.5 1342.2 466.8 1336 462.2M1352.3 474.1 1354.2 474.1 1360 479.9 1356.1 478 1352.3 474.1M1367.7 481.9 1373.5 487.6 1369.6 487.6 1367.7 481.9M1373.5 483 1377.4 488.8 1375.4 487.6 1373.5 483M1396.7 508.9 1399.4 510.8 1398.6 512.7 1397.1 510.8 1396.7 508.9M1387 528.9 1392.8 532 1398.6 537 1396.7 537 1388.9 532 1387 528.9M1061.8 420.1 1062.6 413.2 1066.5 418.2 1069.6 422.8 1068.4 426.7 1064.9 428.2 1062.6 425.9 1061.8 420.1M944.1 497.3 948.7 510 945.6 516.6 942.9 526.2 939 537.8 935.2 547.4 929.4 549.7 923.6 547.4 920.9 535.9 925.1 526.2 923.6 516.6 931.3 511.9 937.1 506.9 941.7 501.1 944.1 497.3M1019.4 640 1025.9 640.4 1024 642.3 1020.1 642.7 1019.4 640M1192 535.9 1193.9 535.1 1204.3 530.5 1213.2 528.1 1221 526.2 1226 520.4 1230.6 516.6 1236.4 508.9 1244.1 505 1248.8 508.9 1253.8 508.5 1256.9 499.2 1263.4 495.4 1269.2 496.5 1278.1 497.3 1282 498.1 1278.9 502.3 1277 508.1 1282.7 511.9 1290.5 516.6 1297.4 518.1 1300.9 508.9 1300.1 501.1 1302.1 493.4 1305.1 493.4 1307.8 505 1314.8 508.9 1317.5 518.5 1323.3 525.4 1329.1 532 1336 538.9 1343.8 549.4 1345.3 557.1 1346.5 562.9 1344.5 570.6 1340.7 577.5 1337.6 582.1 1333 593.7 1325.2 596.8 1318.7 601.4 1312.9 598.3 1307.8 600.7 1300.1 598.7 1293.6 595.3 1292.4 589.1 1288.5 588.3 1287.4 583.3 1284.7 586 1282 586.8 1285.8 579.4 1279.7 585.2 1275.8 584.5 1271.9 577.5 1261.5 572.5 1251.8 573.3 1240.3 575.6 1230.6 581.8 1217.1 582.1 1209 586.4 1200.5 583.3 1197.8 580.6 1200.5 576.4 1197.8 566.7 1196.2 561.7 1192 553.2 1193.9 551.3 1191.6 543.6 1192 535.9M1312.5 608 1319.4 609.5 1326.4 608.8 1325.2 614.9 1321.4 618.8 1317.5 618.8 1314.4 614.2 1312.5 608M1420.6 583.7 1423.7 586.8 1427.6 591.8 1430.7 593.7 1433.4 596 1443 596.4 1441.1 602.6 1436.5 605.3 1430.3 611.5 1428 609.9 1429.5 605.3 1425.6 601.4 1427.6 597.6 1425.6 591.8 1420.6 583.7M1420.6 607.2 1426.8 610.3 1421.8 616.9 1420.6 619.9 1414.8 622.6 1412.1 628 1406.3 630.7 1396.7 628.4 1398.6 624.6 1404.4 620.7 1412.1 616.9 1416 612.2 1420.6 607.2M425.8 366.5 433.1 362.7 440.8 361.9 448.6 364.2 454.4 367.3 461.3 369.6 467.1 372.7 461.7 374.2 453.6 374.2 455.5 371.5 450.5 368.1 442.8 366.1 437 365 431.6 365.4 425.8 366.5M466.3 380.4 472.5 374.2 479.5 374.2 486.4 376.6 489.9 379.3 483.3 380.8 477.9 383.1 470.2 380.8 466.3 380.4M451.3 380 459 380.8 457.1 382 452.4 381.2 451.3 380M494.1 379.6 500.3 380 499.5 381.6 494.1 381.6 494.1 379.6M452.4 353.8 454 357.3 451.6 357.7 452.4 353.8M514.6 409.3 518.1 409.3 518.1 412 514.6 412 514.6 409.3M524.3 267.4 537.4 267.4 539.3 269.7 547 270.9 550.1 267.8 548.2 264.3 547 261.2 539.3 259.7 537.4 252.4 532.4 256.2 526.6 263.9 524.3 267.4M257.8 255.1 267 258.1 274.8 263.5 277.5 264.3 270.9 260.5 263.2 256.2 257.8 255.1M240 242.7 243.9 246.6 245.8 249.7 241.9 246.6 240 242.7M157 228.1 164.7 227.3 165.9 229.6 158.9 232.3 157 228.1M240 235 243.9 238.9 245.8 235 240 235M90.2 204.9 97.1 205.7 102.1 206.8 95.2 207.2 90.2 206.1 90.2 204.9M151.6 373.1 155 374.6 155.8 375.8 152.7 378.1 151.2 375 151.6 373.1M148.5 370 151.2 370.8 149.6 371.5 148.5 370M142.3 367.7 144.6 368.5 143.5 368.8 142.3 367.7M136.5 365.4 138.4 365.4 137.7 366.5 136.5 365.4M488.7 653.9 496.8 661.2 501.9 663.1 491 665.1 483.3 663.1 473.7 659.3 481.4 657 488.7 653.9M517.3 650.8 525.8 648.9 530.4 650 525.8 652.7 518.1 652.3 517.3 650.8M606.9 659.3 614.6 660.4 610.8 661.6 606.9 659.3M801.5 305.2 805.8 303.7 813.9 303.3 812 309.4 808.9 308.3 801.5 305.2M786.1 300.6 785.3 293.2 789.2 292.1 791.5 294.8 790.3 300.2 786.1 300.6M786.9 289.4 787.3 286.7 790 285.1 790.3 289 789.2 291.3 786.9 289.4M844.4 314.8 855.2 314.8 854.1 316 846.3 315.2 844.4 314.8M878.4 316 881.1 314.5 887.3 313.3 884.6 316 879.6 317.2 878.4 316M796.1 236.2 801.9 234.6 801.5 238.1 796.9 238.1 796.1 236.2"/></defs>
<text x="743.10" y="87.6" class="tt" textLength="970.95" lengthAdjust="spacing" xml:space="preserve">Combined (GIM), 2000-01-07 00:00 UT</text>
<g clip-path="url(#m0)"><g shape-rendering="crispEdges">
<rect x="58.5" y="113.5" width="1371" height="675" fill="#00009b"/>
<path fill="#0000da" fill-rule="evenodd" d="M54 110L1434 110L1434 794L54 794ZM727 199L690 201L678 202L664 205L650 209L634 217L624 221L614 222L594 223L570 227L562 227L556 226L538 222L518 219L486 217L476 218L468 219L467 220L465 222L465 224L468 230L471 236L474 239L477 242L490 250L508 260L516 263L524 265L541 268L558 272L566 273L572 272L586 269L604 267L622 265L640 264L666 264L676 263L710 253L736 247L746 244L752 240L755 236L756 230L760 220L760 216L758 211L754 206L751 204L748 202L738 200Z"/>
<path fill="#0004ff" fill-rule="evenodd" d="M508 142L520 141L542 144L576 147L608 148L620 150L626 151L636 155L644 157L648 159L650 160L653 164L653 168L653 172L651 176L648 180L625 190L620 191L600 194L580 198L548 198L540 197L504 191L497 190L466 176L456 168L453 164L452 162L451 158L452 153L455 150L460 147L468 145L486 145ZM173 150L192 149L210 150L246 157L268 160L280 163L294 168L310 174L382 209L390 213L398 219L403 224L408 230L412 233L418 236L430 240L434 243L454 260L464 270L467 276L468 285L470 288L478 301L484 308L490 313L500 318L521 332L529 338L529 340L527 342L520 345L498 350L494 349L484 344L480 342L474 341L468 342L464 344L460 347L458 350L456 354L456 358L457 360L458 362L460 363L464 364L476 367L480 368L486 372L494 373L501 373L514 372L528 371L546 369L554 368L562 371L576 380L580 382L586 384L594 386L608 386L620 388L624 389L632 388L640 387L646 385L651 382L656 376L659 370L660 364L664 350L665 346L668 342L674 336L688 327L704 314L710 311L728 303L736 300L752 298L756 297L796 272L812 264L824 259L834 257L846 256L894 256L938 255L954 255L990 260L1008 260L1024 259L1050 255L1078 254L1108 250L1122 249L1146 249L1154 249L1166 246L1186 238L1196 235L1206 232L1225 230L1232 228L1239 226L1252 219L1258 217L1288 212L1308 207L1356 199L1371 196L1384 192L1410 182L1422 176L1434 168L1434 794L54 794L54 162L62 159L72 156L98 152L122 150ZM992 355L964 363L931 376L923 380L919 384L919 386L919 388L920 392L931 410L936 420L937 424L940 440L942 446L943 448L944 448L948 450L956 451L972 451L976 451L984 455L1004 465L1012 467L1018 467L1028 466L1038 464L1044 461L1048 459L1052 456L1054 452L1055 448L1056 442L1055 434L1054 428L1052 424L1031 390L1024 368L1020 362L1014 357L1008 355L1000 354ZM600 322L616 320L622 321L628 322L635 326L640 330L642 334L643 336L642 338L639 342L634 344L618 348L610 349L588 346L580 345L574 346L564 348L558 348L554 347L550 346L544 342L544 340L562 332L568 330L578 328L592 323Z"/>
<path fill="#003cff" fill-rule="evenodd" d="M173 178L188 178L202 179L254 190L262 192L272 195L286 202L300 210L344 240L357 250L364 258L369 266L370 271L371 282L374 288L384 301L399 316L403 322L403 326L401 330L384 341L378 346L372 354L369 360L368 361L369 366L370 369L372 372L378 376L387 380L418 389L432 394L440 396L446 396L460 392L472 392L488 395L498 396L522 395L556 398L594 405L622 404L632 403L642 402L650 399L658 396L664 391L671 386L676 380L680 374L688 360L692 355L715 338L718 335L726 332L742 327L756 325L762 326L770 328L794 337L802 338L810 336L820 333L826 329L834 323L840 321L846 320L852 319L860 319L868 320L880 323L895 330L898 332L900 334L902 338L903 342L904 346L903 350L890 374L885 388L883 402L881 424L879 436L879 440L880 444L882 446L884 447L886 447L896 444L902 443L906 443L912 444L918 446L922 449L926 452L931 458L936 461L964 474L970 475L982 475L988 476L994 477L1006 482L1010 483L1014 483L1046 483L1052 482L1080 475L1084 474L1087 472L1089 468L1090 464L1090 462L1088 459L1082 450L1081 448L1080 444L1081 432L1085 416L1088 410L1092 406L1098 400L1114 390L1120 385L1130 376L1136 368L1138 362L1139 356L1139 326L1140 316L1142 310L1144 306L1147 302L1152 297L1162 292L1180 288L1184 286L1187 283L1192 276L1196 272L1204 267L1212 264L1224 262L1242 262L1250 259L1266 249L1274 246L1282 245L1300 245L1310 243L1358 229L1376 225L1396 222L1426 215L1431 214L1434 212L1434 794L54 794L54 205L61 202L68 199L80 197L102 195L112 194L152 181L164 178ZM842 459L838 460L834 461L830 466L828 468L828 470L828 472L830 474L832 475L836 475L841 474L844 471L846 468L847 464L846 461L844 460ZM890 647L882 651L878 654L875 658L874 660L874 664L874 666L876 670L881 674L886 676L890 677L894 677L900 675L906 671L911 666L912 664L913 659L912 656L910 653L907 650L904 647L898 646L894 646Z"/>
<path fill="#0070ff" fill-rule="evenodd" d="M181 206L192 205L206 206L223 210L244 215L256 218L266 222L276 228L284 234L297 246L316 268L318 272L319 282L320 286L324 290L334 299L338 303L345 312L349 318L350 324L350 326L349 330L344 334L334 344L332 346L332 350L333 354L335 358L341 368L348 379L352 383L356 386L363 390L390 397L412 404L432 408L444 410L450 409L462 403L468 402L490 405L542 409L554 410L576 415L590 416L606 416L632 414L644 412L656 408L663 406L674 400L689 390L700 376L706 371L724 359L732 355L742 352L752 352L760 354L768 357L796 375L822 390L828 394L830 397L833 402L834 408L834 412L828 426L826 442L823 448L808 457L790 473L786 475L782 476L770 476L762 477L746 477L738 478L733 480L728 482L722 486L720 488L720 490L720 491L724 494L734 498L740 498L746 498L754 496L778 487L784 486L790 486L810 492L820 495L832 496L843 495L854 493L872 486L882 483L906 477L916 476L926 477L940 480L944 482L954 488L962 491L970 492L980 490L984 490L989 492L1000 497L1008 499L1014 500L1024 499L1040 501L1050 502L1060 501L1078 496L1090 496L1096 495L1100 493L1102 491L1106 484L1108 476L1108 470L1108 464L1103 446L1103 442L1104 440L1106 436L1108 434L1116 428L1118 425L1146 391L1153 382L1160 370L1165 356L1167 346L1170 330L1172 322L1174 315L1179 310L1192 301L1208 288L1218 282L1228 278L1238 277L1244 277L1254 280L1258 280L1260 279L1266 272L1270 268L1274 265L1278 263L1286 262L1300 265L1306 265L1312 263L1356 248L1389 240L1398 238L1435 233L1434 794L213 794L192 791L176 790L162 791L148 794L54 794L54 232L82 227L116 223L132 219L162 209L170 207ZM622 663L612 666L596 673L590 674L584 675L558 673L542 673L533 676L516 683L510 685L504 684L492 681L487 681L481 684L472 690L468 694L468 696L469 698L472 700L477 702L482 702L488 702L492 701L508 695L514 694L520 694L538 699L544 699L550 699L558 698L564 696L586 685L594 683L602 684L615 690L620 691L624 692L628 692L632 690L639 682L641 678L642 674L640 670L639 668L636 666L629 664ZM964 541L948 542L924 542L918 543L912 545L892 554L878 562L870 566L862 568L848 572L834 578L826 581L812 590L796 599L786 602L782 606L777 612L761 632L748 649L744 654L740 657L736 658L706 664L700 666L694 668L688 674L684 680L684 684L685 688L688 692L690 694L696 696L704 698L714 697L720 695L728 690L735 684L744 672L748 668L752 667L758 666L768 666L776 667L780 668L782 670L788 682L792 688L798 694L802 696L808 698L826 699L838 701L858 706L878 713L888 715L898 717L916 718L924 719L932 722L946 729L966 738L972 739L988 739L996 741L1008 744L1020 752L1028 754L1034 753L1040 751L1046 748L1053 742L1056 740L1080 737L1085 736L1096 731L1100 729L1103 726L1104 722L1103 718L1102 716L1100 715L1096 715L1086 716L1082 716L1076 715L1067 712L1062 711L1036 708L998 706L994 705L991 704L987 700L985 696L984 690L985 682L987 674L995 658L1001 648L1008 639L1022 628L1025 624L1026 616L1030 606L1032 593L1034 582L1034 576L1032 566L1028 557L1022 550L1014 545L1008 543L1000 542L972 541ZM1188 593L1175 598L1168 602L1167 604L1166 606L1167 608L1169 612L1175 616L1180 618L1190 621L1200 622L1208 621L1216 618L1223 616L1226 614L1227 612L1228 610L1228 608L1226 604L1222 600L1215 596L1208 593L1202 592L1196 592ZM805 620L806 619L810 621L815 624L819 628L820 632L820 636L819 640L817 644L814 647L800 661L796 663L793 663L790 663L788 662L787 658L788 654L789 648L793 638L798 628L802 622Z"/>
<path fill="#00a8ff" fill-rule="evenodd" d="M188 240L196 239L206 240L240 246L254 249L258 251L262 253L268 260L277 272L282 286L288 298L289 304L289 310L288 314L284 324L284 330L285 334L287 338L300 354L306 360L322 369L328 373L334 378L344 389L354 396L362 400L388 406L408 413L438 417L446 418L450 417L458 414L462 413L472 413L500 417L526 417L540 418L550 420L568 425L576 426L600 428L614 427L628 425L642 422L656 419L664 416L688 404L714 383L720 380L730 376L738 373L744 373L750 373L758 376L762 378L767 382L778 396L783 406L789 422L789 426L789 432L785 446L783 450L781 452L773 458L766 462L758 464L750 465L736 465L728 466L706 472L698 473L690 473L676 472L660 475L652 476L646 475L634 474L628 474L614 475L602 476L594 478L575 488L572 490L571 492L571 494L573 496L574 496L583 500L598 504L608 505L624 505L646 504L654 504L662 506L678 509L716 511L732 513L742 512L758 510L776 508L784 507L794 508L808 511L832 513L843 516L855 520L862 523L865 526L865 528L864 530L861 534L856 538L840 548L828 553L810 560L808 561L806 564L800 578L798 580L794 582L764 590L754 592L742 593L718 594L702 598L694 600L686 601L664 602L646 606L622 609L614 611L590 620L556 629L531 640L506 646L488 654L484 654L472 654L464 655L456 657L438 665L430 668L414 669L394 669L384 666L368 658L362 658L356 659L340 665L328 668L310 676L300 678L296 678L290 677L276 671L270 670L250 670L248 670L247 672L248 674L252 678L262 686L268 690L274 693L288 697L296 700L320 716L326 719L332 722L340 723L356 725L370 729L378 730L389 730L408 727L424 728L430 729L436 734L442 742L446 750L448 756L447 762L445 766L440 769L434 771L428 772L422 771L400 765L382 761L370 759L352 759L328 760L308 758L288 758L274 757L256 757L242 755L220 751L200 748L180 743L162 739L152 736L138 729L123 724L100 714L96 713L84 713L76 712L70 711L54 705L54 254L66 253L97 250L126 249L142 248L158 245L178 241ZM102 641L95 644L92 646L91 648L90 650L90 652L92 654L94 656L97 658L102 659L107 660L118 659L123 658L126 656L127 654L127 652L125 648L120 644L116 642L113 641ZM182 293L176 295L168 297L164 299L161 302L158 306L157 310L159 314L160 316L163 318L170 320L174 321L180 322L188 321L194 319L199 318L204 314L206 310L206 306L204 302L203 300L196 296L192 294L188 293ZM174 645L170 648L167 650L166 652L167 654L168 655L172 656L178 657L197 656L198 654L190 650L180 646ZM1402 254L1414 253L1434 254L1434 651L1431 646L1430 642L1429 624L1428 620L1424 615L1418 612L1414 611L1410 611L1386 616L1378 616L1372 614L1361 606L1356 603L1351 602L1284 589L1268 584L1236 574L1220 570L1208 569L1188 570L1140 574L1124 578L1114 582L1106 588L1100 596L1097 600L1095 606L1095 610L1096 612L1099 614L1106 618L1114 626L1118 629L1132 636L1142 641L1148 642L1156 643L1178 641L1210 647L1228 651L1242 657L1250 659L1258 659L1284 657L1296 654L1318 646L1328 644L1338 644L1356 644L1365 642L1380 635L1388 633L1394 634L1398 635L1402 638L1408 644L1414 648L1424 653L1434 658L1434 705L1400 712L1382 715L1360 720L1344 723L1329 728L1324 730L1322 732L1321 734L1321 738L1324 752L1323 756L1322 758L1318 760L1306 767L1298 774L1290 778L1286 779L1280 781L1274 781L1270 780L1262 777L1245 766L1237 760L1236 758L1235 756L1235 754L1236 752L1241 746L1249 738L1258 729L1267 718L1269 714L1268 710L1265 706L1262 704L1258 702L1252 701L1226 700L1204 696L1188 699L1178 698L1168 696L1148 687L1138 685L1124 683L1102 683L1092 682L1080 678L1076 675L1072 672L1069 668L1067 661L1066 656L1066 650L1068 644L1070 639L1082 624L1083 622L1083 620L1082 618L1074 613L1072 611L1066 595L1064 588L1062 576L1062 568L1064 560L1066 554L1068 549L1072 544L1078 540L1086 537L1104 533L1112 531L1120 527L1124 523L1128 520L1130 513L1133 506L1134 502L1135 496L1133 484L1132 476L1125 460L1123 454L1123 450L1124 446L1128 440L1142 425L1162 400L1185 368L1191 358L1197 336L1201 326L1208 316L1218 305L1228 297L1234 294L1238 293L1242 294L1250 298L1254 299L1260 299L1264 298L1268 296L1272 294L1276 290L1280 282L1282 281L1286 281L1298 283L1302 283L1324 273L1334 269L1360 262ZM532 728L538 727L546 727L554 729L564 732L572 736L582 742L589 748L592 752L594 756L596 760L596 764L595 770L593 776L590 782L586 788L580 794L523 794L522 792L519 787L516 782L513 770L510 762L509 758L509 752L512 744L518 736L524 730L528 728ZM791 730L798 728L804 730L819 738L833 748L844 758L855 770L864 782L871 794L732 794L727 790L720 786L678 764L666 755L652 746L650 743L649 740L649 737L650 735L652 733L656 732L664 733L686 737L706 738L720 737L738 733L742 732L746 734L749 736L756 745L758 745L768 741L781 734ZM1206 750L1212 749L1218 750L1224 754L1225 756L1225 758L1222 762L1214 767L1206 769L1200 769L1198 768L1196 766L1194 764L1194 760L1196 756L1198 753L1202 751Z"/>
<path fill="#00dcfe" fill-rule="evenodd" d="M1393 272L1406 270L1424 270L1430 271L1434 273L1434 598L1428 589L1424 587L1421 585L1412 584L1388 586L1376 584L1356 578L1334 575L1318 570L1296 565L1254 550L1228 543L1220 542L1210 542L1200 543L1180 546L1174 546L1164 545L1160 544L1157 542L1155 538L1154 530L1156 522L1163 502L1165 492L1166 480L1164 460L1164 454L1165 448L1168 440L1171 432L1177 422L1200 388L1218 358L1224 350L1234 340L1240 331L1246 326L1252 322L1280 310L1306 294L1318 290L1342 278L1346 277L1376 274ZM82 278L90 276L100 276L106 277L109 278L110 279L112 282L114 286L114 292L112 304L113 308L115 312L119 316L138 325L148 330L158 331L176 332L232 335L241 338L250 345L254 345L266 346L272 348L278 351L282 354L294 365L297 368L314 374L324 379L332 385L348 401L352 403L358 406L384 411L392 414L404 419L408 420L444 424L452 424L460 422L464 422L472 424L487 430L492 431L498 431L512 428L522 426L532 426L540 427L551 430L568 437L582 437L590 439L610 448L611 450L603 456L595 462L586 466L564 475L558 478L553 484L550 490L549 494L550 496L551 498L556 504L558 506L562 508L578 511L596 517L622 518L644 516L652 517L674 521L694 523L730 530L740 530L756 526L782 525L799 530L804 531L807 534L808 536L808 538L806 540L794 545L788 550L783 556L777 566L774 567L772 568L766 568L754 567L748 567L738 569L714 577L702 579L694 580L674 579L664 581L646 585L624 586L616 588L588 599L574 602L564 603L544 602L526 607L516 608L510 608L488 606L468 610L448 615L442 617L438 622L434 628L431 638L428 642L425 644L421 646L413 647L408 647L406 646L405 644L405 640L406 630L404 626L382 609L376 606L370 605L358 605L350 606L338 608L330 612L325 616L323 618L322 622L322 628L325 638L325 640L324 642L318 643L300 644L288 644L278 642L258 637L250 635L226 633L220 631L206 626L194 624L180 623L160 624L118 623L114 622L108 620L101 618L88 615L82 615L68 617L62 616L58 614L54 611L54 280L58 282L62 282L68 281ZM743 392L750 392L754 394L758 399L762 406L765 412L766 416L766 420L765 422L759 430L759 432L759 444L758 448L757 450L754 452L750 453L738 451L730 451L722 452L702 457L680 455L672 455L650 459L642 458L628 452L619 450L616 448L617 446L622 443L648 434L660 431L666 428L676 423L690 416L704 406L712 402L728 396ZM1351 678L1354 677L1358 677L1359 678L1361 680L1356 682L1352 682L1350 682L1349 680ZM163 690L172 689L182 690L190 691L198 694L209 700L217 706L219 708L219 710L219 712L216 714L210 715L196 715L184 714L171 710L162 706L159 704L156 702L154 698L154 696L154 694L156 692Z"/>
<path fill="#26ffd1" fill-rule="evenodd" d="M1351 296L1356 294L1366 294L1390 295L1402 296L1410 299L1416 302L1434 314L1434 580L1426 572L1422 569L1418 567L1414 566L1410 566L1394 571L1386 570L1368 566L1356 564L1334 557L1304 546L1293 538L1281 528L1274 520L1262 503L1255 496L1234 480L1218 471L1214 466L1211 460L1210 456L1210 450L1215 428L1217 422L1226 400L1231 390L1238 378L1245 368L1257 356L1268 346L1286 336L1307 326L1318 317L1330 309L1342 300ZM54 324L54 323L58 330L58 330L60 331L74 326L82 325L86 326L97 332L104 334L126 335L150 339L168 340L225 346L232 348L248 353L262 354L268 356L272 357L278 360L294 372L312 379L322 384L330 390L344 404L350 408L356 411L374 414L382 416L390 419L402 425L406 426L422 428L438 430L452 431L460 434L474 436L488 440L496 442L500 441L512 437L522 435L534 435L540 436L546 438L550 440L557 444L563 450L565 454L565 456L562 460L550 470L545 476L542 480L541 486L540 492L542 498L546 504L554 511L562 515L596 524L622 527L638 526L648 527L656 528L674 532L690 533L700 535L707 538L711 542L714 546L715 550L715 554L714 555L712 559L710 562L706 563L702 565L698 565L692 565L676 562L671 564L654 569L646 571L638 572L622 571L618 572L592 583L584 586L576 588L566 589L540 589L492 593L468 597L442 598L432 600L416 606L410 607L406 607L402 605L392 598L384 595L380 594L366 595L354 595L330 598L314 600L300 600L288 603L274 603L269 606L254 614L248 617L244 617L230 615L226 614L220 611L214 609L166 608L90 601L70 601L62 599L58 597L54 593Z"/>
<path fill="#50ffa7" fill-rule="evenodd" d="M1369 328L1394 326L1402 326L1410 327L1418 329L1425 332L1428 334L1434 339L1434 561L1426 548L1422 544L1418 542L1414 541L1410 542L1396 546L1392 546L1382 546L1370 542L1356 535L1340 528L1332 524L1326 520L1318 514L1301 496L1285 480L1268 468L1258 462L1248 452L1244 450L1236 448L1235 446L1235 442L1236 436L1242 419L1247 410L1260 388L1268 380L1276 371L1284 365L1304 354L1322 345L1342 335L1356 330ZM78 340L86 339L104 342L128 343L150 346L172 347L224 354L246 360L266 361L274 364L292 376L312 384L322 389L332 397L344 410L348 413L354 415L372 418L382 421L390 424L404 431L408 432L416 432L423 434L446 441L454 445L458 445L470 443L478 443L490 446L498 450L500 451L506 447L510 445L514 445L526 445L538 448L542 450L544 452L544 454L543 458L534 470L531 476L530 482L530 488L532 494L534 498L542 508L548 514L552 517L562 521L576 525L592 531L636 536L648 538L653 540L661 544L664 546L664 548L657 554L646 558L638 560L616 564L592 572L580 575L566 577L538 577L516 579L502 581L482 586L472 587L462 587L448 585L442 585L420 587L406 586L396 587L381 587L362 589L332 590L314 593L300 592L276 592L270 593L252 599L242 600L236 600L220 597L202 597L186 596L165 594L127 589L104 589L90 586L72 586L64 584L58 580L54 576L54 343L60 343Z"/>
<path fill="#7dff7a" fill-rule="evenodd" d="M74 348L86 347L134 350L150 352L166 353L184 355L198 357L214 360L228 361L246 365L260 366L266 367L274 370L290 380L312 389L320 393L330 400L336 406L342 413L348 418L354 419L368 422L377 424L390 429L404 436L406 437L414 437L418 438L427 444L436 452L442 455L448 456L455 456L470 450L476 449L482 449L486 449L488 450L494 454L498 456L502 457L508 456L512 457L514 458L516 460L518 464L517 468L515 480L515 486L517 492L522 498L530 506L538 516L542 520L546 523L552 526L560 529L574 533L584 538L590 541L596 542L606 542L610 543L617 546L619 548L618 550L610 553L596 556L578 562L566 564L536 564L514 567L500 570L483 578L474 580L468 580L464 579L458 578L448 574L442 573L416 578L394 581L378 581L360 584L338 584L312 587L276 586L270 586L256 590L250 590L240 590L222 588L202 587L182 586L148 580L108 573L90 569L74 569L66 568L60 564L54 558L54 350ZM1393 347L1400 347L1406 347L1414 348L1426 352L1430 352L1434 352L1434 542L1429 532L1424 527L1418 526L1408 526L1402 525L1392 522L1385 518L1374 510L1356 501L1346 495L1338 489L1324 477L1318 473L1290 459L1280 459L1274 458L1268 454L1264 450L1263 448L1262 444L1263 438L1266 428L1269 422L1283 401L1292 392L1301 384L1308 378L1324 369L1334 364L1346 359L1360 354Z"/>
<path fill="#a7ff50" fill-rule="evenodd" d="M77 354L102 354L134 355L150 358L168 358L184 361L198 362L214 366L228 367L244 371L260 371L268 372L288 383L310 392L322 398L330 405L342 418L346 421L352 423L368 426L378 429L394 436L404 443L413 446L415 448L416 452L419 470L420 476L422 479L424 481L430 485L432 485L434 484L439 476L442 473L446 470L460 464L472 458L480 456L484 457L488 459L497 468L497 470L497 472L494 478L493 482L495 490L498 498L501 502L511 510L516 516L517 520L519 530L522 538L522 542L519 546L498 557L490 562L481 570L476 572L472 573L468 573L464 572L460 570L450 563L448 562L444 562L438 563L422 568L402 573L390 575L376 576L360 579L340 579L310 582L276 580L250 584L246 584L228 580L198 578L168 574L136 568L92 557L86 557L74 556L66 554L60 551L54 545L54 356L62 354ZM1403 360L1408 359L1412 360L1426 363L1430 363L1434 361L1434 528L1430 522L1428 520L1424 518L1410 516L1406 515L1402 513L1398 509L1390 498L1384 492L1380 490L1368 485L1356 477L1344 468L1328 455L1326 454L1324 454L1316 456L1312 457L1308 457L1304 455L1300 452L1296 446L1292 442L1288 440L1286 438L1285 436L1285 432L1286 428L1288 422L1292 416L1308 398L1312 394L1320 388L1330 383L1358 372L1368 369L1382 367L1396 361Z"/>
<path fill="#d1ff26" fill-rule="evenodd" d="M87 360L104 359L134 360L150 363L166 363L182 367L198 368L212 371L228 372L244 376L258 375L264 376L270 378L288 387L314 398L322 403L328 407L333 412L340 421L344 424L350 427L364 429L374 432L387 438L395 442L398 448L401 454L402 462L402 478L404 482L406 486L412 492L419 498L430 506L447 518L451 522L458 532L460 534L466 535L478 533L481 534L482 536L483 538L483 548L483 552L481 558L478 562L476 564L472 565L468 565L464 564L454 553L450 551L446 551L438 553L420 561L396 567L388 568L374 569L358 573L342 573L326 575L300 576L276 574L256 577L250 577L238 573L232 572L202 571L174 568L138 560L92 548L72 546L64 543L58 539L54 535L54 363L58 361L64 360ZM1404 370L1406 369L1410 368L1424 371L1430 371L1434 369L1434 519L1430 515L1410 508L1404 504L1402 502L1399 498L1394 486L1392 483L1380 476L1368 466L1350 454L1345 450L1340 444L1336 440L1332 438L1326 437L1322 438L1312 441L1310 441L1308 440L1306 438L1304 432L1304 428L1304 424L1305 420L1307 416L1311 412L1326 400L1346 393L1365 384L1372 381L1378 379L1392 378L1394 377L1400 372ZM485 522L486 521L491 522L492 524L491 526L488 527L486 527L485 526L484 524Z"/>
<path fill="#feed00" fill-rule="evenodd" d="M95 365L128 365L150 367L164 368L182 371L198 373L212 376L228 377L242 380L256 380L262 381L268 382L316 403L322 407L328 411L332 415L339 424L342 427L346 429L350 431L362 433L368 434L375 438L384 444L386 446L388 450L391 460L392 466L391 478L392 482L394 486L396 490L402 496L428 518L434 524L439 530L440 534L440 536L439 538L434 542L422 550L414 553L392 560L386 561L374 562L362 565L356 566L342 567L328 568L312 568L298 570L278 568L256 570L250 569L242 565L236 564L210 564L182 562L148 555L118 548L94 541L88 539L74 538L66 536L60 532L54 525L54 371L58 368L64 367ZM106 446L105 448L106 450L110 450L112 448L108 446ZM197 445L186 448L182 448L164 446L148 449L132 448L128 448L125 450L126 451L134 456L150 458L164 463L196 471L216 477L234 482L240 485L250 490L254 491L260 491L270 491L294 487L299 486L301 484L302 482L302 480L301 478L299 476L295 474L276 466L272 466L262 467L256 466L250 463L242 456L239 454L228 449L210 445L202 445ZM1407 380L1410 378L1412 378L1424 381L1428 381L1432 380L1434 379L1434 513L1429 510L1422 505L1410 501L1406 498L1404 495L1403 492L1403 484L1401 480L1398 477L1390 472L1385 468L1374 452L1370 448L1368 444L1367 440L1367 434L1368 424L1369 412L1371 404L1375 398L1378 394L1381 392L1384 391L1392 390L1396 389L1400 386Z"/>
<path fill="#ffbd00" fill-rule="evenodd" d="M100 372L114 370L126 370L136 370L150 372L164 372L182 376L198 377L212 380L228 381L242 385L252 384L258 385L266 387L296 399L320 409L326 413L329 416L336 426L344 435L348 437L358 437L363 438L371 442L376 448L379 452L382 462L381 480L381 484L383 488L387 494L394 501L406 512L412 520L416 526L417 530L418 534L417 538L413 542L407 546L392 553L386 554L374 556L358 560L328 563L312 563L298 564L278 562L260 563L252 562L244 558L238 556L214 557L202 557L188 556L174 554L150 548L120 541L96 533L90 532L74 530L68 528L64 527L58 522L54 517L54 448L60 452L80 457L96 462L104 464L134 469L166 474L200 480L228 488L238 492L250 498L258 500L266 500L282 497L296 497L324 492L331 490L336 488L339 486L340 482L340 480L339 478L336 476L318 469L276 458L272 458L262 459L258 459L254 458L248 454L234 443L230 441L226 440L210 437L204 436L194 436L182 437L168 435L148 434L116 430L66 418L60 418L54 419L54 383L56 382L60 378L66 376ZM1434 390L1434 389L1434 425L1431 428L1429 430L1428 432L1429 434L1434 439L1434 489L1432 486L1430 485L1428 485L1424 487L1418 491L1414 492L1412 492L1410 490L1410 486L1410 480L1408 476L1404 470L1396 464L1395 462L1394 460L1394 456L1394 453L1396 450L1398 448L1406 445L1413 438L1416 434L1416 432L1415 430L1408 419L1406 414L1406 408L1407 404L1409 400L1413 396L1416 393ZM1434 498L1434 496L1434 505L1434 502Z"/>
<path fill="#ff8900" fill-rule="evenodd" d="M115 376L136 375L150 376L166 376L182 380L198 381L212 384L228 385L242 389L252 388L260 390L292 402L316 412L323 416L327 418L328 420L338 434L342 441L344 443L348 445L358 444L360 445L362 447L365 452L365 456L365 458L362 460L358 461L330 461L318 459L296 457L276 453L262 454L256 453L252 452L248 449L246 446L240 437L238 435L234 434L212 430L182 427L164 427L140 425L116 420L108 418L88 408L80 402L76 398L75 394L75 392L77 388L80 385L88 382L94 380ZM1424 462L1428 461L1434 463L1434 475L1430 474L1422 478L1420 477L1418 476L1417 472L1417 468L1418 466L1420 464ZM54 466L64 466L72 467L96 473L118 477L150 480L168 481L198 486L208 488L224 494L236 498L251 506L258 508L266 508L282 505L298 504L312 502L332 501L354 499L362 499L370 501L376 503L382 507L390 513L395 518L398 522L400 528L400 532L399 536L396 540L392 544L384 547L359 554L332 556L298 557L278 556L260 556L252 554L244 550L240 549L234 549L220 550L202 550L192 550L174 547L162 544L146 540L132 536L118 533L98 525L72 521L66 519L62 516L58 513L54 508Z"/>
<path fill="#ff5900" fill-rule="evenodd" d="M136 380L150 381L166 381L182 385L198 385L212 389L228 389L242 393L250 393L256 394L266 398L286 405L298 411L314 417L320 420L323 422L326 425L334 438L336 442L335 446L332 448L328 450L318 451L304 451L296 451L282 448L276 447L262 448L258 447L254 446L252 445L250 443L247 436L244 432L240 428L236 427L228 425L184 420L162 420L142 418L134 417L119 414L112 411L106 406L100 400L97 396L97 394L97 392L98 390L104 385L117 382ZM64 480L68 479L72 479L88 483L98 484L118 486L134 486L150 487L168 487L188 489L200 491L210 494L226 501L235 506L250 516L254 517L258 518L266 518L286 514L318 511L348 511L358 512L368 515L377 520L380 523L383 526L383 528L384 532L382 536L380 538L374 542L368 544L364 546L355 548L334 550L304 551L260 547L254 546L246 542L240 541L234 542L220 544L208 544L192 544L176 542L172 541L164 538L148 534L134 527L124 526L120 525L113 522L104 516L98 513L70 508L64 506L60 502L60 498L60 484L61 482Z"/>
<path fill="#ff2500" fill-rule="evenodd" d="M131 386L138 385L150 385L166 385L182 390L196 391L208 394L212 395L228 394L240 399L253 400L264 404L284 410L296 416L311 424L314 426L318 430L319 434L319 436L316 438L312 441L306 442L300 443L294 443L274 441L262 441L258 440L254 437L242 422L238 420L232 418L192 413L150 414L140 412L128 410L122 407L116 404L113 400L113 396L114 392L118 390ZM157 494L170 493L182 493L198 496L206 498L220 506L230 512L233 516L236 520L237 524L236 528L235 530L229 534L224 536L218 537L198 538L176 537L164 532L150 529L138 520L134 519L128 518L124 516L119 512L116 508L115 506L115 504L116 502L120 500L122 498L136 496ZM305 524L314 522L324 522L334 522L344 523L354 526L358 529L360 532L359 534L357 536L354 538L340 542L334 542L304 542L290 538L287 536L286 534L286 532L288 530L292 528L296 526Z"/>
<path fill="#da0000" fill-rule="evenodd" d="M144 392L158 391L166 392L170 394L176 398L178 400L178 402L172 404L160 406L152 407L144 406L136 404L132 402L131 400L130 398L131 396L134 394L138 392ZM250 410L254 409L264 411L278 415L284 418L289 422L293 426L294 428L294 430L292 431L290 432L284 433L268 433L260 431L255 428L252 424L248 414L247 412ZM174 500L180 500L194 502L200 503L204 505L211 510L216 516L218 520L218 524L217 526L214 528L210 530L202 531L196 532L180 531L174 530L166 526L155 522L152 520L150 518L147 514L147 512L147 510L148 508L150 506L154 504L161 502Z"/>
</g>
<use href="#coast" transform="translate(0,0)"/>
</g>
<rect x="58.5" y="113.5" width="1371" height="675" fill="none" stroke="#000" stroke-width="3.2"/>
<rect x="58.50" y="831.5" width="72.46" height="67.5" fill="#00009b"/>
<rect x="130.66" y="831.5" width="72.46" height="67.5" fill="#0000da"/>
<rect x="202.82" y="831.5" width="72.46" height="67.5" fill="#0004ff"/>
<rect x="274.97" y="831.5" width="72.46" height="67.5" fill="#003cff"/>
<rect x="347.13" y="831.5" width="72.46" height="67.5" fill="#0070ff"/>
<rect x="419.29" y="831.5" width="72.46" height="67.5" fill="#00a8ff"/>
<rect x="491.45" y="831.5" width="72.46" height="67.5" fill="#00dcfe"/>
<rect x="563.61" y="831.5" width="72.46" height="67.5" fill="#26ffd1"/>
<rect x="635.76" y="831.5" width="72.46" height="67.5" fill="#50ffa7"/>
<rect x="707.92" y="831.5" width="72.46" height="67.5" fill="#7dff7a"/>
<rect x="780.08" y="831.5" width="72.46" height="67.5" fill="#a7ff50"/>
<rect x="852.24" y="831.5" width="72.46" height="67.5" fill="#d1ff26"/>
<rect x="924.39" y="831.5" width="72.46" height="67.5" fill="#feed00"/>
<rect x="996.55" y="831.5" width="72.46" height="67.5" fill="#ffbd00"/>
<rect x="1068.71" y="831.5" width="72.46" height="67.5" fill="#ff8900"/>
<rect x="1140.87" y="831.5" width="72.46" height="67.5" fill="#ff5900"/>
<rect x="1213.03" y="831.5" width="72.46" height="67.5" fill="#ff2500"/>
<rect x="1285.18" y="831.5" width="72.46" height="67.5" fill="#da0000"/>
<rect x="1357.34" y="831.5" width="72.46" height="67.5" fill="#9b0000"/>
<rect x="58.5" y="831.5" width="1371" height="67.5" fill="none" stroke="#000" stroke-width="3.1"/>
<line x1="58.50" x2="58.50" y1="899" y2="914" stroke="#000" stroke-width="3.2"/>
<text x="58.50" y="961" class="tl">0</text>
<line x1="202.82" x2="202.82" y1="899" y2="914" stroke="#000" stroke-width="3.2"/>
<text x="202.82" y="961" class="tl">10</text>
<line x1="347.13" x2="347.13" y1="899" y2="914" stroke="#000" stroke-width="3.2"/>
<text x="347.13" y="961" class="tl">20</text>
<line x1="491.45" x2="491.45" y1="899" y2="914" stroke="#000" stroke-width="3.2"/>
<text x="491.45" y="961" class="tl">30</text>
<line x1="635.76" x2="635.76" y1="899" y2="914" stroke="#000" stroke-width="3.2"/>
<text x="635.76" y="961" class="tl">40</text>
<line x1="780.08" x2="780.08" y1="899" y2="914" stroke="#000" stroke-width="3.2"/>
<text x="780.08" y="961" class="tl">50</text>
<line x1="924.39" x2="924.39" y1="899" y2="914" stroke="#000" stroke-width="3.2"/>
<text x="924.39" y="961" class="tl">60</text>
<line x1="1068.71" x2="1068.71" y1="899" y2="914" stroke="#000" stroke-width="3.2"/>
<text x="1068.71" y="961" class="tl">70</text>
<line x1="1213.03" x2="1213.03" y1="899" y2="914" stroke="#000" stroke-width="3.2"/>
<text x="1213.03" y="961" class="tl">80</text>
<line x1="1357.34" x2="1357.34" y1="899" y2="914" stroke="#000" stroke-width="3.2"/>
<text x="1357.34" y="961" class="tl">90</text>
<text x="744.00" y="1072.6" class="tt" textLength="1222.95" lengthAdjust="spacing" xml:space="preserve">Ionosphere  (h=450.0 km), 2000-01-07 00:00 UT</text>
<g clip-path="url(#m1)"><g shape-rendering="crispEdges">
<rect x="58.5" y="1098.5" width="1371" height="675" fill="#00009b"/>
<path fill="#0000da" fill-rule="evenodd" d="M1052 1096L1062 1094L1082 1094L1092 1096L1112 1102L1118 1102L1162 1099L1168 1097L1174 1094L1431 1094L1434 1097L1434 1778L54 1778L54 1104L58 1105L64 1106L98 1104L128 1104L140 1105L166 1109L182 1110L196 1111L220 1110L256 1117L270 1118L280 1118L304 1114L318 1113L328 1113L348 1116L354 1117L360 1116L376 1114L384 1113L392 1114L406 1117L412 1117L462 1116L486 1116L510 1116L546 1120L568 1120L592 1122L621 1122L630 1123L666 1128L698 1136L710 1138L726 1138L742 1142L746 1142L762 1140L790 1132L806 1130L816 1130L834 1132L842 1132L870 1129L884 1129L898 1130L904 1130L908 1129L914 1127L936 1114L944 1111L952 1108L962 1107L974 1107L986 1108L1004 1112L1010 1112L1018 1110L1040 1100ZM1264 1146L1252 1147L1237 1150L1224 1154L1206 1163L1200 1164L1194 1165L1182 1165L1168 1164L1118 1157L1112 1158L1084 1164L1066 1166L1046 1165L1016 1161L1010 1161L1004 1163L984 1172L976 1175L966 1178L956 1179L948 1178L939 1176L930 1174L914 1167L910 1166L906 1166L902 1167L894 1173L888 1176L884 1177L878 1178L872 1178L866 1178L840 1172L834 1172L828 1172L823 1174L812 1182L804 1186L796 1188L788 1189L782 1189L774 1188L746 1180L742 1180L730 1182L722 1182L714 1180L698 1175L692 1174L686 1174L678 1175L660 1180L602 1192L590 1194L580 1194L572 1194L566 1194L532 1185L522 1183L496 1181L482 1179L460 1173L454 1172L430 1170L410 1172L402 1172L396 1170L388 1167L382 1164L368 1155L362 1153L358 1153L356 1155L354 1157L352 1160L352 1166L352 1170L354 1174L355 1176L357 1178L382 1190L396 1191L400 1192L404 1194L408 1197L420 1207L430 1214L440 1219L461 1226L490 1240L511 1252L514 1255L518 1259L522 1264L524 1268L526 1272L526 1276L526 1282L525 1290L522 1298L520 1300L516 1304L508 1308L486 1318L464 1329L460 1330L448 1333L440 1335L428 1340L418 1344L414 1346L412 1348L412 1350L419 1364L422 1369L426 1372L434 1376L444 1379L454 1380L486 1379L534 1378L568 1381L596 1382L606 1383L622 1387L634 1388L654 1388L660 1388L666 1386L678 1382L684 1379L689 1376L693 1372L696 1368L698 1362L703 1344L706 1336L713 1326L720 1319L724 1315L730 1312L736 1309L746 1308L754 1308L772 1314L780 1316L790 1315L798 1313L807 1308L812 1304L818 1298L822 1292L834 1272L838 1267L842 1264L846 1262L848 1262L852 1262L856 1262L858 1265L861 1268L864 1276L865 1278L883 1298L887 1306L889 1312L889 1318L886 1328L869 1372L864 1390L863 1402L862 1412L864 1420L866 1424L869 1426L872 1427L876 1428L882 1428L892 1425L926 1413L934 1411L948 1410L956 1410L963 1411L968 1412L972 1414L976 1418L984 1428L988 1433L1011 1448L1018 1452L1024 1454L1032 1455L1038 1456L1047 1454L1056 1452L1062 1449L1065 1446L1068 1442L1069 1436L1069 1431L1065 1420L1063 1412L1063 1409L1063 1404L1066 1398L1072 1390L1079 1384L1085 1380L1097 1374L1100 1372L1105 1364L1118 1349L1122 1344L1124 1336L1125 1324L1124 1314L1120 1298L1120 1288L1121 1282L1122 1278L1126 1272L1135 1264L1150 1253L1156 1250L1170 1245L1178 1240L1184 1234L1192 1221L1196 1216L1208 1204L1216 1198L1222 1196L1228 1195L1250 1197L1268 1197L1277 1197L1280 1195L1286 1192L1290 1188L1295 1182L1302 1172L1304 1166L1305 1160L1304 1156L1299 1152L1290 1149L1278 1147ZM839 1432L834 1434L828 1438L826 1440L824 1444L823 1448L824 1452L826 1454L828 1456L832 1457L836 1457L843 1454L849 1450L852 1446L854 1442L854 1438L854 1436L852 1434L846 1431L842 1431ZM943 1270L952 1269L964 1269L972 1271L976 1273L980 1276L985 1280L988 1284L990 1288L991 1292L991 1298L989 1302L987 1306L981 1312L972 1317L966 1320L958 1322L951 1322L938 1321L931 1318L924 1315L922 1310L920 1306L919 1294L921 1288L924 1282L928 1278L934 1274Z"/>
<path fill="#0004ff" fill-rule="evenodd" d="M139 1146L158 1146L190 1147L210 1146L220 1147L226 1148L234 1150L242 1154L253 1160L276 1169L284 1171L292 1172L308 1171L316 1172L320 1174L326 1177L343 1188L346 1192L354 1200L360 1204L368 1208L382 1212L386 1216L404 1234L417 1244L420 1248L421 1252L420 1256L418 1259L409 1266L406 1269L403 1276L401 1284L400 1292L401 1298L402 1302L408 1310L410 1316L410 1320L408 1326L405 1330L402 1332L396 1334L386 1336L382 1338L381 1340L381 1342L381 1344L385 1350L390 1354L394 1356L404 1359L408 1362L413 1366L418 1377L422 1381L430 1386L440 1391L448 1393L461 1394L500 1396L512 1396L526 1395L536 1395L568 1399L602 1399L622 1403L634 1404L644 1404L654 1403L676 1399L699 1396L702 1396L706 1394L712 1389L717 1384L721 1378L730 1359L736 1350L740 1347L744 1346L748 1345L752 1346L766 1355L786 1372L791 1376L798 1386L802 1392L804 1396L805 1402L806 1408L805 1414L803 1420L799 1428L781 1456L779 1460L778 1462L779 1464L782 1468L789 1474L794 1477L802 1478L818 1477L834 1476L851 1472L875 1467L900 1459L904 1456L913 1448L920 1444L928 1441L936 1440L944 1441L950 1442L970 1450L988 1456L1008 1464L1016 1466L1028 1469L1042 1470L1060 1470L1072 1469L1081 1467L1085 1464L1089 1460L1095 1452L1097 1448L1094 1432L1094 1424L1095 1414L1097 1408L1104 1394L1116 1384L1122 1378L1138 1356L1143 1348L1147 1340L1149 1332L1151 1322L1154 1304L1157 1296L1160 1288L1166 1282L1170 1280L1184 1274L1190 1271L1203 1260L1214 1249L1218 1245L1222 1243L1226 1242L1230 1242L1234 1243L1246 1246L1250 1247L1254 1247L1258 1246L1262 1242L1266 1236L1267 1230L1268 1221L1270 1218L1274 1216L1284 1214L1290 1212L1296 1208L1304 1202L1308 1200L1316 1198L1342 1194L1388 1183L1394 1183L1409 1188L1418 1190L1426 1190L1434 1187L1434 1778L54 1778L54 1178L57 1174L61 1164L64 1161L70 1158L76 1156L87 1155L112 1149L124 1147ZM742 1458L737 1460L731 1464L729 1466L729 1468L730 1470L734 1473L738 1473L746 1473L754 1471L760 1468L761 1466L762 1464L761 1462L756 1459L754 1458L748 1458Z"/>
<path fill="#003cff" fill-rule="evenodd" d="M140 1176L152 1175L168 1175L202 1175L220 1176L228 1178L236 1180L259 1190L270 1195L280 1197L284 1198L288 1198L300 1196L306 1195L312 1196L318 1198L321 1202L323 1206L324 1210L324 1217L325 1220L335 1238L338 1246L341 1260L342 1266L352 1282L356 1290L358 1298L359 1304L357 1308L354 1312L348 1317L342 1321L338 1322L326 1322L312 1325L308 1326L307 1328L307 1330L308 1332L310 1332L314 1332L318 1333L322 1336L328 1341L330 1342L340 1341L344 1342L348 1345L356 1353L358 1354L366 1355L370 1356L374 1358L382 1364L384 1365L390 1366L400 1366L404 1367L407 1368L409 1370L409 1372L409 1376L406 1380L406 1381L430 1396L440 1401L450 1403L492 1409L504 1409L522 1406L532 1405L544 1407L562 1411L568 1412L608 1413L620 1415L640 1421L648 1422L656 1421L672 1415L676 1414L682 1414L702 1417L708 1417L714 1415L722 1412L745 1400L748 1397L752 1392L754 1390L756 1390L760 1391L766 1395L770 1399L773 1402L775 1406L776 1412L775 1416L773 1420L768 1426L761 1432L756 1439L754 1441L752 1442L744 1443L740 1443L728 1448L716 1448L708 1449L700 1452L692 1458L688 1462L688 1464L688 1466L691 1470L702 1478L714 1484L726 1487L738 1488L754 1485L758 1485L766 1486L784 1491L792 1493L804 1494L812 1494L828 1492L848 1489L862 1488L872 1486L878 1484L888 1480L902 1476L908 1472L916 1466L920 1464L928 1462L938 1462L944 1463L964 1468L982 1471L998 1478L1004 1480L1012 1481L1024 1482L1042 1488L1066 1492L1090 1500L1100 1501L1104 1501L1108 1500L1112 1499L1116 1496L1121 1490L1123 1486L1124 1482L1124 1474L1122 1464L1118 1448L1113 1434L1113 1428L1115 1420L1118 1414L1122 1409L1142 1389L1152 1376L1158 1365L1165 1350L1174 1330L1180 1312L1184 1304L1189 1296L1204 1278L1209 1274L1222 1266L1228 1263L1232 1262L1240 1262L1256 1265L1262 1264L1265 1262L1273 1252L1278 1249L1284 1247L1288 1248L1294 1250L1298 1249L1302 1247L1312 1240L1320 1235L1338 1227L1354 1222L1380 1214L1388 1212L1397 1211L1420 1209L1428 1208L1434 1206L1434 1778L1013 1778L1010 1752L1011 1744L1013 1740L1016 1740L1020 1741L1024 1744L1034 1754L1038 1757L1042 1759L1046 1760L1052 1760L1058 1760L1064 1759L1072 1756L1082 1751L1096 1742L1106 1735L1112 1729L1116 1723L1118 1716L1118 1712L1116 1710L1114 1709L1110 1708L1102 1710L1090 1714L1086 1714L1080 1711L1066 1702L1062 1699L1054 1697L1036 1695L1026 1693L1013 1688L1006 1683L1002 1680L997 1672L995 1666L996 1656L998 1648L999 1644L1002 1641L1014 1631L1021 1624L1025 1618L1028 1610L1028 1598L1031 1580L1032 1574L1030 1556L1028 1548L1024 1541L1018 1535L1012 1531L1006 1529L996 1527L972 1525L932 1522L926 1523L919 1526L878 1548L862 1561L848 1570L846 1572L845 1574L845 1576L846 1580L848 1583L852 1586L858 1590L865 1593L882 1599L885 1600L886 1602L886 1604L886 1608L885 1612L872 1633L868 1644L867 1652L867 1656L869 1660L886 1682L896 1696L903 1712L907 1728L908 1736L908 1742L907 1750L905 1756L902 1764L898 1770L894 1774L889 1778L836 1778L824 1773L820 1772L808 1772L806 1770L804 1769L803 1756L800 1745L799 1740L792 1726L790 1720L790 1716L791 1712L794 1708L806 1692L814 1683L828 1672L831 1668L832 1666L832 1664L830 1663L828 1662L824 1661L800 1664L784 1669L776 1671L768 1671L748 1668L740 1668L734 1669L727 1670L715 1674L710 1676L700 1682L690 1685L688 1686L686 1688L686 1690L686 1694L687 1696L690 1700L698 1704L700 1707L708 1723L713 1730L718 1736L728 1740L732 1742L736 1747L738 1750L740 1754L740 1766L739 1772L737 1778L54 1778L54 1202L62 1198L74 1194L104 1187L130 1179ZM638 1462L634 1464L632 1466L631 1468L632 1470L634 1472L638 1473L648 1472L658 1475L662 1475L665 1474L668 1472L669 1470L670 1468L670 1466L667 1464L660 1462L644 1461Z"/>
<path fill="#0070ff" fill-rule="evenodd" d="M144 1206L152 1205L162 1205L190 1206L214 1206L222 1207L232 1208L252 1214L273 1219L278 1220L285 1224L288 1227L291 1230L294 1234L296 1240L306 1272L311 1284L311 1288L312 1292L310 1296L306 1299L297 1300L282 1302L276 1303L271 1306L267 1310L265 1314L266 1318L268 1322L270 1324L280 1330L302 1343L306 1344L314 1344L316 1345L324 1351L328 1353L332 1353L338 1352L342 1353L346 1354L352 1360L354 1362L358 1363L366 1363L370 1364L380 1371L394 1377L402 1386L407 1388L416 1394L428 1405L434 1408L444 1411L460 1413L476 1417L494 1420L504 1420L522 1415L532 1414L542 1416L558 1422L564 1423L568 1423L576 1423L580 1423L586 1424L594 1427L596 1427L606 1425L610 1425L614 1427L617 1428L619 1430L620 1434L621 1440L620 1444L617 1448L613 1452L606 1456L596 1459L592 1462L586 1468L583 1472L582 1474L581 1476L582 1478L585 1480L590 1483L598 1485L614 1487L622 1488L636 1488L650 1491L658 1492L666 1492L676 1491L682 1491L722 1499L732 1500L764 1502L790 1508L796 1508L808 1508L842 1518L844 1520L844 1522L842 1524L839 1526L822 1535L810 1542L802 1546L796 1548L782 1550L772 1555L758 1559L756 1561L751 1572L746 1578L740 1582L722 1590L718 1591L714 1591L708 1590L698 1587L694 1587L689 1588L678 1593L666 1593L662 1593L661 1594L658 1598L657 1604L658 1610L663 1620L664 1624L664 1628L662 1634L656 1644L648 1652L640 1656L632 1659L622 1660L610 1659L600 1657L584 1651L576 1649L568 1647L558 1646L544 1647L528 1650L504 1656L492 1658L480 1659L462 1659L442 1666L436 1668L430 1668L420 1667L400 1662L394 1662L378 1664L366 1663L356 1661L342 1658L336 1657L332 1658L326 1659L304 1669L300 1670L296 1670L294 1670L290 1668L280 1658L276 1656L274 1654L268 1654L260 1654L252 1655L246 1658L243 1660L241 1664L239 1668L238 1672L238 1678L239 1682L240 1688L244 1694L246 1696L250 1697L256 1698L260 1697L264 1695L276 1687L282 1687L288 1688L294 1692L302 1699L305 1700L310 1708L314 1712L318 1713L330 1716L333 1716L334 1718L335 1720L335 1722L333 1726L329 1730L325 1732L320 1733L316 1732L304 1728L286 1730L276 1730L246 1726L230 1722L198 1721L152 1713L134 1710L120 1706L106 1702L101 1698L88 1689L82 1687L78 1687L72 1689L54 1699L55 1639L63 1651L68 1657L76 1663L82 1665L86 1664L88 1663L98 1656L110 1651L114 1647L116 1644L117 1642L116 1640L114 1638L110 1637L102 1636L98 1635L89 1626L84 1623L80 1622L76 1621L71 1620L54 1623L54 1224L76 1220L110 1217L134 1209ZM1428 1226L1434 1226L1434 1705L1423 1710L1410 1714L1396 1717L1386 1718L1378 1717L1366 1713L1354 1711L1332 1704L1328 1704L1323 1706L1317 1710L1314 1714L1311 1718L1310 1724L1310 1728L1310 1732L1313 1740L1318 1747L1328 1754L1329 1756L1330 1758L1329 1762L1327 1766L1323 1772L1317 1778L1227 1778L1222 1774L1218 1771L1214 1771L1202 1771L1194 1769L1188 1765L1184 1761L1180 1756L1178 1752L1177 1746L1178 1742L1180 1738L1182 1735L1186 1731L1190 1729L1194 1728L1198 1727L1202 1728L1206 1729L1218 1735L1222 1735L1224 1735L1230 1731L1238 1723L1244 1716L1247 1710L1248 1706L1248 1702L1242 1682L1238 1669L1236 1665L1234 1663L1230 1662L1224 1663L1200 1674L1188 1681L1184 1682L1180 1683L1170 1681L1148 1674L1140 1671L1118 1668L1114 1666L1108 1660L1103 1654L1098 1646L1096 1642L1096 1636L1098 1630L1100 1626L1104 1623L1108 1623L1112 1623L1124 1627L1128 1628L1158 1625L1170 1625L1190 1627L1198 1629L1214 1638L1222 1641L1228 1642L1242 1640L1246 1640L1254 1644L1262 1644L1270 1642L1280 1639L1290 1634L1310 1622L1320 1618L1334 1614L1360 1610L1363 1608L1362 1606L1359 1604L1356 1602L1342 1601L1330 1599L1318 1597L1310 1595L1282 1586L1274 1585L1258 1584L1250 1583L1242 1580L1228 1573L1222 1570L1212 1568L1200 1567L1186 1568L1178 1568L1152 1576L1144 1577L1128 1579L1122 1581L1108 1592L1098 1598L1088 1599L1082 1599L1076 1596L1070 1592L1066 1586L1063 1578L1060 1569L1060 1562L1061 1552L1063 1544L1067 1538L1070 1535L1074 1534L1082 1532L1112 1530L1118 1529L1126 1525L1132 1522L1139 1516L1150 1501L1152 1497L1154 1492L1154 1482L1153 1472L1148 1454L1145 1442L1145 1439L1145 1436L1146 1435L1152 1432L1155 1430L1156 1428L1161 1418L1170 1404L1176 1392L1185 1360L1190 1348L1202 1325L1218 1298L1222 1292L1226 1288L1233 1284L1236 1283L1240 1282L1244 1283L1254 1286L1260 1287L1266 1288L1270 1287L1274 1285L1278 1283L1286 1276L1290 1273L1304 1270L1308 1267L1315 1258L1320 1254L1324 1253L1332 1251L1348 1243L1368 1236L1382 1232L1396 1230ZM780 1598L786 1598L790 1599L813 1614L816 1618L816 1620L816 1622L813 1626L807 1632L802 1635L798 1637L778 1638L750 1643L736 1644L718 1644L710 1642L705 1640L700 1636L696 1632L693 1628L692 1624L693 1622L693 1620L697 1616L706 1610L716 1605L724 1604L748 1605L756 1605L766 1603Z"/>
<path fill="#00a8ff" fill-rule="evenodd" d="M140 1236L150 1237L156 1238L162 1240L173 1244L192 1256L196 1257L198 1257L200 1256L210 1250L218 1246L224 1246L232 1247L240 1250L245 1254L248 1260L248 1266L247 1270L243 1274L236 1278L232 1278L228 1277L222 1275L200 1262L198 1261L196 1261L181 1272L176 1274L154 1282L132 1286L126 1288L123 1290L122 1292L121 1296L123 1300L129 1304L140 1308L148 1311L152 1311L164 1310L170 1311L176 1313L188 1318L192 1319L196 1319L212 1317L220 1318L224 1319L234 1325L248 1328L256 1330L274 1338L286 1342L300 1350L314 1353L322 1358L326 1359L330 1360L340 1361L348 1366L352 1368L356 1369L368 1371L378 1376L388 1382L404 1394L409 1396L413 1400L424 1413L428 1415L432 1417L454 1421L466 1425L472 1427L500 1431L504 1431L508 1431L518 1424L522 1423L528 1422L536 1424L550 1430L556 1431L562 1432L574 1430L578 1431L583 1434L586 1438L587 1442L587 1444L587 1446L583 1450L576 1455L568 1459L562 1460L550 1461L544 1463L538 1467L536 1469L535 1472L534 1476L535 1480L546 1492L550 1494L590 1501L602 1502L634 1502L660 1506L688 1507L700 1509L734 1514L752 1516L762 1520L768 1524L771 1528L771 1530L771 1532L768 1536L763 1540L750 1546L746 1548L743 1552L740 1557L737 1560L733 1562L728 1564L720 1564L694 1563L672 1565L656 1568L632 1577L622 1579L614 1579L598 1577L590 1577L584 1579L566 1588L560 1590L554 1591L548 1591L540 1589L534 1587L524 1582L516 1579L510 1577L504 1576L500 1577L496 1578L484 1583L478 1585L466 1588L462 1590L459 1594L458 1598L458 1602L460 1606L468 1617L470 1620L471 1624L471 1628L470 1632L466 1638L462 1641L458 1641L436 1641L430 1641L426 1638L412 1629L408 1627L404 1626L398 1628L383 1636L376 1640L370 1641L366 1641L359 1636L349 1628L343 1620L338 1612L336 1610L334 1609L332 1609L328 1612L318 1624L312 1629L308 1632L304 1633L280 1628L260 1626L246 1625L224 1626L214 1625L204 1623L182 1615L160 1615L152 1615L144 1613L118 1607L92 1603L64 1601L59 1600L54 1599L54 1245L78 1248L92 1248L102 1246L128 1238ZM1418 1246L1428 1245L1434 1245L1434 1592L1428 1589L1424 1587L1416 1587L1396 1587L1386 1586L1360 1580L1320 1573L1294 1568L1278 1562L1260 1558L1254 1556L1250 1552L1246 1548L1236 1537L1232 1535L1224 1536L1178 1541L1168 1540L1163 1538L1160 1537L1159 1534L1158 1530L1159 1526L1160 1524L1178 1500L1183 1492L1185 1486L1186 1482L1185 1476L1180 1462L1179 1458L1180 1448L1181 1442L1182 1440L1184 1439L1194 1438L1197 1436L1199 1434L1200 1432L1201 1422L1209 1384L1214 1364L1217 1358L1221 1350L1228 1340L1236 1330L1244 1322L1252 1316L1258 1313L1270 1308L1278 1303L1284 1298L1292 1290L1294 1289L1308 1286L1314 1283L1319 1278L1326 1266L1328 1264L1360 1254L1376 1249L1386 1248L1406 1248ZM1332 1650L1340 1650L1378 1649L1384 1649L1394 1652L1400 1656L1403 1658L1404 1660L1404 1664L1402 1669L1398 1673L1394 1676L1386 1679L1380 1680L1354 1679L1346 1679L1332 1681L1328 1681L1321 1678L1314 1674L1310 1670L1310 1666L1310 1664L1312 1660L1317 1656L1324 1653Z"/>
<path fill="#00dcfe" fill-rule="evenodd" d="M1368 1270L1374 1269L1382 1269L1399 1272L1406 1275L1408 1277L1411 1280L1416 1292L1421 1300L1427 1306L1434 1311L1434 1576L1426 1572L1418 1570L1410 1570L1394 1570L1380 1568L1354 1562L1306 1552L1302 1551L1298 1549L1294 1546L1290 1540L1288 1536L1286 1530L1285 1522L1285 1508L1284 1498L1281 1480L1279 1476L1275 1472L1258 1463L1244 1453L1234 1449L1230 1446L1226 1444L1224 1440L1221 1434L1221 1431L1222 1422L1224 1414L1228 1404L1232 1396L1242 1378L1246 1372L1252 1365L1263 1354L1274 1346L1296 1332L1302 1330L1318 1324L1332 1314L1336 1310L1340 1304L1342 1298L1344 1287L1347 1282L1350 1279L1354 1276ZM83 1314L88 1315L96 1315L126 1322L136 1324L146 1324L166 1324L172 1325L184 1328L190 1330L198 1330L212 1329L220 1329L234 1334L250 1338L258 1340L274 1346L286 1351L299 1356L312 1361L328 1368L338 1371L354 1376L366 1379L382 1386L392 1392L408 1404L417 1418L422 1422L426 1425L430 1425L442 1425L448 1426L454 1428L462 1434L466 1436L502 1442L508 1442L512 1440L515 1439L518 1433L520 1432L524 1431L528 1431L532 1433L536 1436L537 1438L537 1442L535 1448L528 1457L526 1462L524 1470L524 1478L525 1482L528 1486L541 1498L546 1502L552 1505L562 1508L588 1515L596 1516L612 1515L626 1517L646 1520L674 1529L680 1529L690 1528L706 1530L713 1532L715 1534L714 1536L711 1538L704 1540L682 1538L674 1539L637 1554L628 1557L622 1558L616 1559L598 1558L594 1558L568 1568L556 1571L548 1571L540 1569L520 1562L514 1560L508 1559L500 1560L494 1561L484 1568L478 1570L472 1571L464 1569L460 1570L456 1572L440 1582L432 1585L426 1586L420 1586L414 1585L408 1582L400 1576L396 1576L380 1577L366 1577L336 1580L327 1582L309 1590L294 1600L288 1603L280 1605L274 1606L234 1604L195 1598L162 1595L120 1590L102 1587L92 1587L70 1586L64 1586L60 1584L54 1582L54 1316L58 1317L62 1317Z"/>
<path fill="#26ffd1" fill-rule="evenodd" d="M1361 1322L1366 1321L1372 1321L1398 1321L1416 1323L1434 1326L1434 1557L1426 1554L1418 1552L1410 1551L1394 1552L1378 1549L1363 1544L1344 1536L1337 1530L1334 1526L1333 1522L1331 1514L1332 1494L1331 1484L1328 1476L1326 1470L1322 1464L1319 1460L1314 1456L1307 1452L1300 1450L1291 1446L1282 1442L1280 1442L1278 1442L1270 1445L1266 1446L1262 1446L1258 1445L1244 1436L1242 1434L1240 1430L1239 1426L1240 1420L1245 1410L1262 1384L1270 1374L1276 1368L1284 1362L1308 1347L1344 1329L1354 1325ZM54 1328L104 1329L136 1333L164 1333L182 1337L188 1338L212 1338L218 1338L235 1343L258 1348L270 1352L308 1366L330 1376L354 1384L374 1389L381 1391L390 1396L399 1404L406 1414L406 1420L406 1422L415 1426L422 1433L424 1434L426 1434L430 1434L440 1432L446 1431L450 1433L458 1441L464 1444L470 1446L488 1449L507 1454L510 1456L512 1458L512 1460L513 1470L514 1482L516 1488L520 1494L524 1497L534 1504L540 1510L546 1515L554 1519L573 1526L582 1530L589 1534L590 1537L590 1538L589 1540L585 1544L579 1548L566 1552L556 1554L548 1554L542 1553L522 1545L516 1545L512 1545L506 1547L496 1552L478 1563L472 1564L462 1563L458 1564L454 1565L438 1573L426 1576L418 1576L412 1575L398 1569L394 1569L380 1569L368 1567L364 1567L328 1573L290 1584L270 1584L246 1587L238 1587L214 1583L182 1581L158 1576L126 1573L110 1571L76 1570L68 1569L62 1567L54 1564Z"/>
<path fill="#50ffa7" fill-rule="evenodd" d="M1377 1337L1382 1336L1398 1338L1418 1337L1434 1337L1434 1539L1428 1534L1422 1531L1416 1530L1402 1528L1392 1525L1387 1522L1379 1517L1376 1512L1372 1506L1362 1490L1352 1468L1344 1455L1340 1446L1338 1442L1334 1439L1330 1438L1312 1442L1306 1442L1300 1441L1294 1438L1286 1429L1282 1425L1278 1423L1272 1422L1271 1420L1270 1418L1270 1414L1271 1406L1272 1400L1275 1394L1279 1388L1283 1382L1292 1374L1314 1360L1342 1346L1362 1340ZM54 1338L54 1338L86 1339L110 1338L134 1341L160 1341L166 1341L182 1345L206 1346L216 1347L252 1354L274 1360L306 1372L330 1382L354 1390L374 1395L380 1397L387 1400L393 1406L397 1412L400 1420L402 1424L405 1426L412 1430L420 1440L422 1442L426 1444L430 1444L434 1444L442 1441L444 1441L446 1441L455 1450L460 1454L468 1457L480 1461L484 1462L486 1464L487 1466L489 1470L489 1474L489 1484L490 1488L500 1502L503 1506L504 1510L504 1516L502 1524L501 1532L499 1536L497 1540L493 1544L483 1552L476 1557L472 1558L462 1558L454 1559L448 1561L436 1566L430 1568L424 1568L418 1568L412 1567L398 1563L382 1564L370 1562L364 1561L354 1562L332 1567L302 1571L290 1572L276 1569L272 1568L252 1571L242 1572L218 1568L188 1567L162 1562L136 1560L112 1556L78 1555L70 1554L62 1551L54 1546ZM190 1440L189 1440L189 1442L191 1444L192 1445L208 1448L210 1448L212 1447L213 1446L212 1444L210 1444L202 1443L194 1439L192 1439Z"/>
<path fill="#7dff7a" fill-rule="evenodd" d="M106 1346L114 1346L134 1348L156 1347L180 1351L200 1352L212 1354L230 1358L273 1366L290 1373L310 1379L326 1386L350 1394L374 1400L380 1403L386 1406L389 1410L392 1414L395 1422L397 1426L400 1429L406 1431L408 1432L411 1436L413 1442L414 1448L413 1454L411 1462L412 1464L414 1466L420 1468L432 1472L446 1474L454 1477L458 1480L462 1484L473 1496L484 1509L488 1514L490 1520L489 1532L487 1538L486 1540L481 1544L472 1550L462 1552L448 1554L432 1560L420 1560L406 1558L398 1557L382 1558L370 1556L362 1556L350 1557L326 1562L312 1563L302 1564L292 1563L274 1560L268 1560L252 1561L244 1561L236 1560L218 1557L190 1556L162 1551L134 1548L112 1544L90 1544L80 1543L70 1541L62 1537L54 1532L54 1347L86 1348ZM174 1430L165 1432L160 1434L157 1436L156 1438L156 1440L157 1442L160 1444L170 1449L184 1456L192 1458L210 1460L243 1461L260 1463L264 1463L266 1463L267 1460L267 1458L264 1456L260 1455L250 1454L242 1452L238 1449L230 1442L220 1440L212 1435L202 1431L196 1429L190 1429L184 1429ZM1419 1348L1434 1347L1434 1521L1430 1516L1426 1512L1422 1510L1414 1506L1400 1496L1395 1492L1388 1483L1372 1454L1362 1444L1354 1433L1350 1428L1346 1426L1342 1424L1338 1423L1332 1423L1322 1424L1306 1430L1304 1431L1302 1430L1300 1428L1298 1424L1296 1416L1294 1408L1294 1402L1295 1398L1296 1394L1299 1390L1302 1386L1306 1383L1318 1376L1328 1372L1354 1363L1365 1357L1372 1354L1380 1353L1394 1353Z"/>
<path fill="#a7ff50" fill-rule="evenodd" d="M101 1354L113 1353L132 1354L152 1353L158 1353L178 1357L194 1358L206 1360L232 1367L260 1371L270 1373L288 1380L308 1385L348 1400L360 1404L372 1406L378 1408L382 1411L386 1416L391 1432L394 1435L398 1437L401 1438L402 1440L400 1444L392 1457L390 1462L390 1466L390 1470L392 1474L394 1478L398 1480L400 1482L414 1485L424 1488L441 1494L450 1500L466 1512L471 1518L474 1522L474 1526L474 1530L473 1532L470 1536L462 1540L454 1543L428 1550L420 1550L404 1550L384 1551L368 1550L360 1550L348 1551L326 1556L306 1557L296 1556L274 1552L246 1553L238 1552L220 1549L198 1548L186 1547L163 1542L138 1540L114 1535L80 1532L72 1530L66 1527L60 1524L54 1518L54 1357L82 1357ZM170 1422L154 1424L145 1426L131 1432L129 1434L129 1436L136 1442L142 1446L154 1452L168 1456L180 1462L210 1467L256 1475L266 1476L272 1476L280 1475L292 1473L298 1472L319 1474L326 1475L330 1474L334 1473L337 1470L337 1468L334 1467L324 1463L314 1458L310 1457L298 1460L292 1460L284 1455L273 1446L264 1443L260 1442L252 1443L246 1443L242 1442L241 1440L232 1434L228 1433L222 1435L220 1435L210 1428L202 1425L196 1423L186 1422ZM1426 1358L1434 1358L1434 1505L1428 1491L1427 1489L1422 1486L1410 1480L1406 1478L1403 1474L1394 1460L1388 1450L1382 1439L1380 1437L1375 1433L1373 1430L1367 1414L1359 1402L1357 1396L1358 1390L1361 1382L1367 1374L1372 1370L1378 1368L1392 1365L1404 1363Z"/>
<path fill="#d1ff26" fill-rule="evenodd" d="M113 1358L126 1359L152 1357L158 1358L166 1360L186 1362L206 1366L232 1376L238 1377L256 1378L264 1379L272 1382L288 1387L304 1390L316 1394L327 1398L342 1406L350 1410L356 1412L370 1414L376 1417L379 1420L380 1424L379 1436L380 1446L380 1450L378 1454L370 1466L368 1468L366 1467L351 1458L346 1456L340 1454L328 1453L316 1448L310 1447L294 1448L288 1447L270 1439L264 1434L262 1433L258 1434L250 1437L246 1438L244 1436L238 1432L234 1429L230 1428L221 1426L210 1421L202 1418L186 1416L178 1415L154 1416L138 1416L122 1417L106 1416L100 1415L94 1413L84 1408L70 1402L58 1396L54 1395L54 1370L59 1368L84 1365L104 1360ZM1434 1372L1434 1372L1434 1399L1429 1404L1428 1408L1430 1414L1434 1423L1434 1486L1432 1483L1430 1480L1414 1472L1410 1469L1409 1466L1401 1450L1399 1440L1398 1432L1399 1424L1400 1417L1407 1400L1406 1390L1408 1384L1411 1380L1414 1378L1419 1376ZM54 1436L54 1435L57 1436L60 1438L78 1438L88 1439L96 1442L110 1447L138 1454L150 1458L166 1462L176 1466L180 1468L206 1472L222 1474L244 1481L272 1487L276 1487L296 1486L302 1487L318 1490L326 1490L336 1489L354 1486L361 1482L368 1476L370 1475L372 1476L374 1478L376 1481L382 1491L388 1502L390 1506L394 1511L398 1515L402 1517L404 1517L408 1517L413 1515L420 1508L422 1507L424 1507L430 1510L436 1514L438 1518L439 1520L439 1524L437 1528L434 1530L426 1534L400 1539L388 1542L382 1543L368 1543L360 1543L344 1545L324 1549L308 1550L296 1549L274 1545L246 1545L222 1541L202 1541L180 1539L162 1535L142 1532L112 1524L84 1522L76 1520L70 1518L64 1515L58 1511L54 1507Z"/>
<path fill="#feed00" fill-rule="evenodd" d="M136 1362L152 1361L166 1364L178 1366L184 1367L203 1374L232 1387L236 1388L250 1386L260 1387L270 1389L288 1395L312 1399L318 1402L325 1406L332 1412L340 1421L344 1425L348 1426L360 1428L362 1430L364 1433L364 1436L362 1440L359 1442L356 1443L354 1442L346 1439L342 1439L340 1439L330 1442L328 1442L320 1440L314 1439L308 1439L294 1440L288 1439L274 1433L266 1429L262 1427L258 1427L250 1429L246 1429L236 1423L214 1413L204 1410L194 1409L184 1408L156 1409L138 1408L122 1409L116 1408L110 1407L102 1404L89 1396L82 1390L79 1386L78 1382L79 1380L80 1378L85 1374L97 1368L106 1365L112 1364ZM1421 1448L1422 1448L1426 1448L1434 1450L1434 1475L1422 1464L1419 1460L1418 1456L1418 1452L1419 1450ZM54 1452L54 1452L76 1452L84 1453L162 1467L178 1473L218 1479L242 1488L274 1495L280 1496L298 1495L304 1496L318 1499L326 1500L334 1500L358 1496L364 1496L368 1497L374 1500L380 1505L387 1516L388 1520L388 1524L387 1526L385 1528L382 1530L378 1532L354 1536L332 1539L314 1542L306 1542L296 1541L280 1537L274 1537L268 1536L252 1538L246 1538L222 1534L206 1534L192 1533L178 1532L172 1531L164 1528L146 1526L140 1524L128 1519L120 1516L110 1513L102 1512L82 1510L74 1509L66 1506L60 1502L57 1498L54 1495Z"/>
<path fill="#ffbd00" fill-rule="evenodd" d="M137 1366L152 1365L178 1371L182 1372L196 1384L199 1388L199 1390L199 1392L197 1394L194 1396L186 1398L160 1403L150 1403L138 1402L124 1402L116 1400L111 1398L106 1396L102 1392L98 1388L97 1384L97 1380L100 1376L106 1372L110 1370L116 1369ZM249 1398L258 1397L272 1398L286 1404L306 1408L310 1410L314 1414L315 1418L314 1422L312 1425L308 1427L300 1428L292 1428L284 1426L266 1419L250 1415L246 1413L244 1410L243 1408L243 1406L244 1402L246 1400ZM63 1466L68 1466L76 1466L102 1471L122 1471L134 1472L154 1474L166 1477L200 1481L216 1485L238 1496L246 1499L260 1501L274 1506L282 1507L296 1504L300 1504L306 1506L322 1513L330 1515L336 1514L350 1508L356 1507L362 1508L365 1510L367 1512L368 1515L368 1516L367 1518L365 1520L362 1523L356 1525L350 1526L334 1524L330 1525L326 1526L314 1530L304 1533L298 1532L280 1526L272 1525L264 1525L248 1528L226 1526L220 1526L208 1528L202 1528L192 1526L182 1527L176 1527L164 1523L150 1521L146 1519L142 1516L136 1510L134 1509L116 1504L98 1496L94 1495L82 1497L76 1497L70 1496L66 1494L62 1491L60 1488L58 1484L57 1476L57 1470L59 1468Z"/>
<path fill="#ff8900" fill-rule="evenodd" d="M143 1370L152 1370L162 1372L171 1376L173 1378L174 1380L173 1382L164 1393L158 1396L152 1397L146 1397L124 1394L120 1393L116 1391L113 1386L112 1382L113 1380L116 1376L120 1374L126 1372ZM170 1484L178 1484L188 1485L200 1487L210 1490L219 1494L226 1500L230 1507L230 1510L229 1512L227 1514L224 1516L212 1521L206 1522L192 1520L178 1521L174 1521L150 1512L149 1510L147 1508L144 1502L140 1492L140 1490L142 1488L148 1486L154 1485Z"/>
<path fill="#ff5900" fill-rule="evenodd" d="M135 1378L148 1377L152 1377L156 1379L158 1380L158 1382L158 1384L156 1386L152 1388L146 1389L136 1388L132 1386L130 1384L130 1382L131 1380ZM169 1494L174 1493L180 1493L188 1493L194 1494L200 1496L204 1500L206 1502L207 1506L206 1508L204 1510L200 1512L190 1512L178 1513L174 1513L170 1511L166 1508L163 1504L162 1502L162 1500L163 1498L165 1496Z"/>
</g>
<use href="#coast" transform="translate(0,985)"/>
</g>
<rect x="58.5" y="1098.5" width="1371" height="675" fill="none" stroke="#000" stroke-width="3.2"/>
<rect x="58.50" y="1816.5" width="72.46" height="67.5" fill="#00009b"/>
<rect x="130.66" y="1816.5" width="72.46" height="67.5" fill="#0000da"/>
<rect x="202.82" y="1816.5" width="72.46" height="67.5" fill="#0004ff"/>
<rect x="274.97" y="1816.5" width="72.46" height="67.5" fill="#003cff"/>
<rect x="347.13" y="1816.5" width="72.46" height="67.5" fill="#0070ff"/>
<rect x="419.29" y="1816.5" width="72.46" height="67.5" fill="#00a8ff"/>
<rect x="491.45" y="1816.5" width="72.46" height="67.5" fill="#00dcfe"/>
<rect x="563.61" y="1816.5" width="72.46" height="67.5" fill="#26ffd1"/>
<rect x="635.76" y="1816.5" width="72.46" height="67.5" fill="#50ffa7"/>
<rect x="707.92" y="1816.5" width="72.46" height="67.5" fill="#7dff7a"/>
<rect x="780.08" y="1816.5" width="72.46" height="67.5" fill="#a7ff50"/>
<rect x="852.24" y="1816.5" width="72.46" height="67.5" fill="#d1ff26"/>
<rect x="924.39" y="1816.5" width="72.46" height="67.5" fill="#feed00"/>
<rect x="996.55" y="1816.5" width="72.46" height="67.5" fill="#ffbd00"/>
<rect x="1068.71" y="1816.5" width="72.46" height="67.5" fill="#ff8900"/>
<rect x="1140.87" y="1816.5" width="72.46" height="67.5" fill="#ff5900"/>
<rect x="1213.03" y="1816.5" width="72.46" height="67.5" fill="#ff2500"/>
<rect x="1285.18" y="1816.5" width="72.46" height="67.5" fill="#da0000"/>
<rect x="1357.34" y="1816.5" width="72.46" height="67.5" fill="#9b0000"/>
<rect x="58.5" y="1816.5" width="1371" height="67.5" fill="none" stroke="#000" stroke-width="3.1"/>
<line x1="58.50" x2="58.50" y1="1884" y2="1899" stroke="#000" stroke-width="3.2"/>
<text x="58.50" y="1946" class="tl">0</text>
<line x1="202.82" x2="202.82" y1="1884" y2="1899" stroke="#000" stroke-width="3.2"/>
<text x="202.82" y="1946" class="tl">10</text>
<line x1="347.13" x2="347.13" y1="1884" y2="1899" stroke="#000" stroke-width="3.2"/>
<text x="347.13" y="1946" class="tl">20</text>
<line x1="491.45" x2="491.45" y1="1884" y2="1899" stroke="#000" stroke-width="3.2"/>
<text x="491.45" y="1946" class="tl">30</text>
<line x1="635.76" x2="635.76" y1="1884" y2="1899" stroke="#000" stroke-width="3.2"/>
<text x="635.76" y="1946" class="tl">40</text>
<line x1="780.08" x2="780.08" y1="1884" y2="1899" stroke="#000" stroke-width="3.2"/>
<text x="780.08" y="1946" class="tl">50</text>
<line x1="924.39" x2="924.39" y1="1884" y2="1899" stroke="#000" stroke-width="3.2"/>
<text x="924.39" y="1946" class="tl">60</text>
<line x1="1068.71" x2="1068.71" y1="1884" y2="1899" stroke="#000" stroke-width="3.2"/>
<text x="1068.71" y="1946" class="tl">70</text>
<line x1="1213.03" x2="1213.03" y1="1884" y2="1899" stroke="#000" stroke-width="3.2"/>
<text x="1213.03" y="1946" class="tl">80</text>
<line x1="1357.34" x2="1357.34" y1="1884" y2="1899" stroke="#000" stroke-width="3.2"/>
<text x="1357.34" y="1946" class="tl">90</text>
<text x="743.25" y="2057.6" class="tt" textLength="1311.62" lengthAdjust="spacing" xml:space="preserve">Plasmasphere (h=1500.0 km), 2000-01-07 00:00 UT</text>
<g clip-path="url(#m2)"><g shape-rendering="crispEdges">
<rect x="58.5" y="2083.5" width="1371" height="675" fill="#0000b6"/>
<path fill="#0018ff" fill-rule="evenodd" d="M415 2080L416 2080L986 2080L981 2084L974 2086L926 2096L916 2099L896 2106L884 2109L868 2111L834 2111L806 2113L780 2116L756 2122L728 2130L710 2136L696 2141L676 2150L644 2163L606 2179L594 2183L584 2186L576 2187L568 2188L550 2186L538 2186L512 2189L480 2186L468 2185L458 2185L416 2189L412 2189L410 2188L409 2186L408 2182L412 2170L414 2158L416 2146L417 2132L417 2108ZM978 2150L988 2149L1000 2149L1026 2152L1074 2156L1100 2159L1136 2160L1162 2161L1184 2164L1226 2170L1236 2173L1255 2180L1278 2187L1294 2193L1312 2201L1356 2225L1370 2232L1385 2238L1396 2241L1408 2244L1420 2245L1434 2246L1434 2764L54 2764L54 2246L66 2246L74 2247L82 2248L98 2253L108 2257L118 2262L148 2280L156 2284L162 2286L166 2286L170 2286L182 2278L186 2277L190 2276L196 2277L208 2281L214 2281L223 2278L245 2268L251 2264L258 2258L261 2254L264 2250L265 2246L266 2240L264 2230L260 2222L253 2212L248 2204L247 2200L247 2198L249 2196L250 2194L254 2193L262 2194L288 2195L326 2195L342 2196L383 2202L394 2202L398 2203L402 2206L413 2224L422 2234L432 2242L446 2250L460 2256L474 2260L508 2262L518 2262L540 2259L558 2256L590 2247L602 2244L622 2242L656 2236L694 2232L708 2230L750 2217L753 2216L757 2212L760 2209L774 2202L788 2197L818 2188L832 2183L846 2178L868 2167L887 2160L894 2158L904 2157L918 2156L946 2152ZM1202 2545L1197 2548L1193 2552L1191 2556L1190 2562L1193 2568L1197 2574L1202 2578L1208 2582L1214 2585L1222 2587L1238 2589L1246 2589L1254 2588L1260 2586L1266 2584L1270 2580L1270 2578L1270 2576L1267 2572L1256 2563L1249 2556L1242 2552L1234 2548L1220 2545L1210 2544ZM866 2549L860 2551L844 2557L834 2560L824 2562L808 2564L784 2570L772 2572L754 2572L743 2574L702 2581L692 2584L664 2594L654 2597L644 2598L628 2600L586 2600L550 2601L532 2604L500 2609L484 2610L472 2609L446 2607L414 2602L396 2600L388 2602L369 2610L364 2614L362 2616L361 2620L363 2624L367 2628L375 2632L386 2636L392 2638L398 2638L410 2638L422 2639L434 2641L458 2646L488 2648L514 2652L534 2652L566 2655L598 2651L622 2650L642 2645L650 2643L660 2642L676 2642L700 2638L732 2636L754 2636L778 2634L808 2634L836 2631L860 2628L870 2626L880 2622L890 2618L896 2614L900 2609L905 2604L908 2598L909 2590L909 2581L906 2574L902 2566L896 2558L891 2553L882 2550L875 2549Z"/>
<path fill="#0080ff" fill-rule="evenodd" d="M1109 2206L1126 2205L1142 2205L1166 2208L1186 2213L1203 2218L1254 2236L1282 2248L1304 2256L1374 2277L1386 2279L1400 2279L1420 2277L1434 2275L1434 2533L1430 2529L1426 2526L1406 2516L1382 2502L1366 2495L1358 2493L1352 2493L1343 2493L1332 2496L1326 2500L1308 2510L1298 2515L1288 2519L1278 2521L1266 2522L1250 2520L1232 2515L1210 2507L1204 2505L1198 2505L1194 2505L1190 2506L1165 2518L1152 2526L1146 2532L1141 2538L1128 2560L1127 2566L1128 2570L1131 2574L1134 2578L1144 2586L1166 2599L1184 2611L1211 2626L1225 2636L1231 2642L1233 2648L1234 2654L1233 2662L1230 2670L1225 2676L1218 2680L1208 2685L1194 2690L1178 2693L1156 2699L1144 2701L1128 2701L1120 2703L1114 2706L1109 2710L1108 2712L1108 2714L1109 2718L1112 2722L1118 2725L1146 2731L1158 2732L1170 2733L1178 2733L1194 2731L1206 2732L1216 2733L1254 2740L1274 2740L1290 2740L1306 2741L1334 2744L1360 2744L1406 2742L1422 2742L1428 2742L1434 2740L1434 2764L54 2764L54 2736L74 2728L84 2723L89 2720L94 2716L97 2712L100 2706L102 2700L102 2690L101 2682L96 2662L96 2647L98 2642L102 2638L106 2635L112 2633L118 2632L126 2632L184 2633L192 2634L209 2640L218 2643L228 2643L246 2642L254 2643L268 2646L290 2652L300 2655L316 2661L326 2664L336 2666L354 2669L380 2676L396 2678L434 2681L486 2681L514 2680L528 2681L540 2681L568 2677L594 2676L622 2671L646 2669L676 2665L718 2661L754 2658L810 2658L882 2654L936 2647L948 2645L956 2641L962 2638L967 2634L970 2629L974 2624L977 2612L979 2596L980 2588L982 2581L984 2578L986 2577L990 2577L1006 2579L1018 2580L1030 2579L1040 2577L1050 2573L1066 2564L1069 2562L1071 2558L1072 2552L1071 2545L1067 2538L1062 2530L1056 2523L1044 2512L1017 2492L1011 2486L1009 2482L1007 2478L1007 2473L1006 2464L1008 2448L1013 2420L1014 2408L1012 2397L1011 2392L1008 2386L1005 2382L1001 2378L996 2375L992 2373L988 2372L982 2371L972 2373L968 2374L964 2376L945 2394L942 2397L937 2408L932 2420L930 2434L928 2446L927 2452L927 2458L929 2464L932 2469L936 2473L944 2476L966 2481L977 2484L982 2487L987 2490L989 2492L991 2496L993 2502L993 2506L993 2512L992 2520L986 2540L982 2554L980 2560L978 2562L976 2563L972 2563L966 2561L956 2554L946 2545L941 2539L934 2532L917 2508L912 2503L908 2502L904 2502L900 2502L886 2507L866 2516L838 2532L829 2536L815 2540L798 2543L790 2544L782 2545L770 2544L760 2542L754 2540L749 2537L740 2532L733 2526L730 2522L721 2508L715 2502L712 2500L708 2498L704 2497L698 2496L690 2497L684 2498L677 2502L672 2506L669 2510L666 2515L662 2536L659 2544L655 2550L650 2553L643 2558L634 2560L622 2563L594 2566L552 2571L498 2580L486 2580L470 2579L448 2577L414 2571L404 2570L395 2571L354 2577L328 2583L304 2587L296 2588L288 2588L258 2585L222 2578L200 2575L190 2572L164 2565L138 2563L112 2560L84 2563L76 2562L70 2561L64 2559L60 2556L58 2554L54 2549L54 2273L64 2271L72 2271L80 2272L90 2275L100 2278L110 2282L142 2298L152 2302L162 2304L170 2304L178 2302L182 2299L188 2292L192 2290L196 2291L202 2295L206 2297L210 2298L216 2299L224 2298L234 2295L240 2294L258 2292L270 2291L282 2293L300 2298L316 2302L330 2306L340 2308L348 2308L354 2307L360 2306L392 2296L410 2293L418 2292L430 2291L476 2291L514 2287L538 2287L568 2285L600 2285L636 2285L646 2284L656 2283L678 2278L704 2273L714 2270L750 2256L753 2254L757 2250L761 2248L782 2242L806 2235L862 2215L876 2212L892 2209L914 2208L944 2209L974 2206L988 2207L1020 2210L1030 2210L1076 2209Z"/>
<path fill="#00e4f8" fill-rule="evenodd" d="M1105 2242L1126 2241L1135 2242L1142 2243L1150 2246L1158 2250L1163 2254L1166 2258L1168 2264L1169 2272L1169 2280L1166 2290L1163 2298L1158 2305L1154 2312L1146 2319L1138 2325L1130 2331L1102 2346L1097 2352L1088 2361L1084 2364L1082 2365L1080 2365L1076 2365L1058 2359L1052 2356L1030 2345L1018 2340L1010 2338L1000 2337L990 2338L980 2341L970 2345L964 2349L956 2355L948 2363L937 2380L928 2389L924 2396L919 2404L912 2419L908 2424L902 2432L886 2451L866 2473L849 2490L834 2502L820 2510L812 2513L805 2515L794 2517L788 2516L782 2513L776 2510L772 2507L753 2488L747 2484L735 2478L720 2473L706 2470L692 2468L648 2466L636 2466L630 2467L624 2469L620 2472L614 2476L610 2481L608 2486L600 2504L595 2512L588 2519L581 2526L564 2536L555 2542L529 2552L510 2558L498 2560L480 2560L448 2557L414 2551L400 2550L386 2552L366 2555L334 2560L318 2561L304 2562L294 2561L284 2560L244 2551L208 2546L164 2538L132 2529L106 2523L66 2509L54 2504L54 2295L62 2293L70 2293L78 2294L88 2296L96 2298L106 2302L130 2314L138 2318L148 2320L166 2323L174 2324L180 2323L185 2322L192 2318L196 2317L210 2316L231 2318L234 2317L248 2312L258 2312L292 2316L302 2318L312 2321L322 2325L328 2328L342 2331L350 2333L358 2334L370 2334L386 2334L396 2333L410 2329L432 2326L458 2321L498 2316L522 2313L550 2313L562 2314L572 2315L584 2319L606 2328L612 2330L616 2330L626 2327L654 2315L674 2309L690 2300L696 2298L702 2296L716 2293L738 2284L756 2280L775 2278L788 2275L848 2259L866 2255L882 2253L898 2252L914 2253L938 2256L950 2257L966 2257L990 2256L1046 2251L1080 2245ZM1430 2300L1434 2298L1434 2499L1404 2484L1362 2460L1350 2455L1342 2453L1334 2454L1324 2458L1316 2463L1298 2476L1288 2481L1282 2484L1276 2485L1268 2486L1260 2486L1254 2485L1247 2482L1239 2478L1230 2472L1225 2468L1216 2458L1206 2444L1195 2432L1194 2430L1194 2428L1195 2426L1197 2424L1202 2421L1208 2416L1216 2408L1224 2399L1241 2378L1274 2328L1282 2320L1288 2315L1292 2313L1298 2311L1304 2311L1312 2311L1321 2314L1340 2323L1346 2325L1358 2327L1370 2327L1380 2325L1390 2322L1396 2319L1418 2306ZM1091 2376L1094 2375L1098 2376L1112 2380L1118 2383L1126 2387L1136 2395L1170 2422L1176 2428L1178 2432L1178 2434L1176 2438L1168 2452L1165 2464L1164 2468L1161 2472L1158 2476L1150 2484L1132 2496L1122 2502L1114 2505L1106 2505L1096 2502L1086 2497L1078 2491L1068 2481L1061 2472L1056 2462L1052 2450L1051 2444L1052 2436L1053 2428L1054 2422L1060 2413L1067 2400L1070 2394L1084 2379L1088 2376ZM795 2682L806 2680L812 2680L858 2685L873 2688L898 2695L902 2696L907 2700L911 2704L913 2708L915 2712L916 2718L916 2722L915 2726L912 2730L908 2734L902 2738L895 2742L884 2744L862 2748L845 2753L832 2755L824 2754L806 2753L780 2756L766 2756L758 2754L754 2753L747 2747L742 2746L736 2745L716 2747L704 2746L698 2745L674 2736L666 2735L660 2735L654 2736L650 2738L628 2748L612 2754L610 2755L608 2757L605 2764L544 2764L530 2749L524 2745L518 2743L512 2742L498 2742L482 2737L476 2736L468 2736L456 2739L454 2739L452 2738L453 2735L454 2734L458 2732L472 2729L491 2724L510 2721L524 2721L532 2721L577 2710L598 2706L610 2704L622 2703L652 2699L676 2693L718 2686L752 2683L776 2683Z"/>
<path fill="#53ffa4" fill-rule="evenodd" d="M858 2300L868 2298L880 2298L890 2299L900 2302L908 2306L915 2312L919 2318L921 2324L922 2332L922 2346L920 2356L918 2364L912 2376L904 2390L894 2408L888 2417L886 2420L882 2421L872 2422L868 2423L852 2435L846 2439L820 2449L812 2451L794 2453L780 2456L770 2457L754 2456L734 2455L702 2450L680 2448L666 2446L656 2442L641 2432L635 2426L630 2418L628 2412L627 2408L626 2402L627 2396L630 2388L641 2362L646 2354L650 2347L662 2338L676 2327L688 2322L704 2314L716 2310L732 2305L742 2304L752 2305L792 2316L800 2317L806 2318L810 2317L816 2316L842 2304ZM65 2320L74 2319L82 2320L92 2323L100 2327L108 2332L112 2336L125 2352L128 2354L132 2355L138 2353L164 2344L190 2337L194 2336L202 2330L206 2328L214 2328L228 2329L232 2329L244 2325L250 2324L258 2325L270 2330L274 2331L288 2329L296 2330L302 2332L314 2340L318 2341L328 2341L336 2344L342 2347L352 2353L356 2355L370 2357L386 2364L398 2366L408 2366L456 2363L470 2361L491 2356L518 2351L528 2351L538 2353L546 2357L551 2362L555 2368L557 2376L557 2384L557 2406L557 2416L558 2422L562 2430L564 2436L565 2442L566 2450L565 2472L564 2480L561 2488L557 2498L551 2508L544 2515L538 2522L526 2530L514 2535L504 2538L492 2540L472 2541L454 2540L440 2538L414 2532L402 2531L370 2534L348 2539L334 2541L326 2541L314 2540L296 2536L288 2534L285 2532L278 2528L271 2522L258 2508L254 2505L251 2505L244 2506L230 2512L220 2515L206 2518L196 2519L186 2518L172 2517L162 2514L150 2509L122 2492L113 2484L100 2468L98 2467L94 2464L88 2463L80 2462L64 2465L54 2466L54 2323L58 2321ZM96 2397L92 2400L91 2404L89 2408L88 2414L89 2424L90 2428L92 2432L96 2435L98 2436L100 2436L104 2434L106 2430L106 2422L109 2414L109 2408L107 2402L104 2398L100 2396ZM1433 2334L1434 2332L1434 2466L1424 2465L1413 2462L1404 2458L1400 2456L1390 2448L1382 2440L1378 2432L1376 2426L1376 2422L1376 2416L1378 2410L1383 2400L1391 2390L1405 2378L1409 2374L1414 2366L1426 2344Z"/>
<path fill="#a4ff53" fill-rule="evenodd" d="M734 2332L740 2331L746 2332L758 2335L764 2337L772 2342L785 2354L793 2364L796 2370L797 2374L798 2378L798 2384L797 2392L796 2396L791 2402L772 2417L768 2426L767 2428L762 2430L752 2434L742 2435L732 2436L716 2433L692 2432L682 2435L678 2435L672 2434L668 2432L664 2428L658 2420L655 2414L655 2408L655 2400L657 2392L664 2376L667 2370L672 2364L676 2360L690 2352L700 2345L706 2342L716 2339L726 2334ZM246 2334L248 2333L252 2334L266 2338L272 2339L276 2339L286 2338L292 2338L298 2341L310 2348L316 2350L326 2351L330 2353L344 2363L350 2367L356 2369L368 2371L380 2379L388 2383L394 2385L406 2387L413 2390L442 2405L452 2409L460 2411L470 2413L502 2416L508 2418L512 2420L518 2424L526 2434L533 2446L538 2458L539 2466L538 2476L536 2486L533 2494L529 2500L524 2504L520 2508L514 2512L508 2516L500 2519L492 2521L486 2522L470 2523L452 2521L444 2519L420 2511L408 2509L394 2509L354 2516L346 2516L338 2515L332 2513L326 2511L320 2506L317 2502L313 2494L310 2476L308 2470L304 2463L300 2457L296 2453L290 2451L282 2448L274 2448L264 2450L257 2452L252 2454L245 2460L231 2474L224 2480L213 2488L202 2492L190 2495L182 2496L176 2496L168 2494L158 2490L148 2483L143 2476L139 2466L137 2454L137 2438L140 2416L144 2400L147 2392L150 2386L153 2380L158 2374L165 2366L172 2360L180 2354L194 2347L206 2339L212 2337L232 2337L239 2336ZM857 2342L862 2341L866 2341L872 2343L876 2345L880 2349L882 2354L883 2358L883 2364L882 2368L880 2374L876 2380L872 2384L866 2387L862 2388L856 2389L850 2389L844 2387L842 2386L837 2382L836 2380L834 2376L833 2370L835 2362L837 2358L840 2354L843 2350L848 2346L852 2343Z"/>
<path fill="#f8f500" fill-rule="evenodd" d="M234 2346L242 2344L252 2344L270 2346L284 2346L288 2347L292 2348L304 2356L314 2360L320 2364L325 2368L334 2379L347 2392L352 2398L355 2402L357 2408L357 2412L356 2422L356 2424L357 2426L362 2433L364 2438L363 2444L361 2448L358 2450L354 2450L351 2450L348 2448L346 2444L343 2434L340 2431L336 2428L330 2426L324 2425L316 2425L308 2425L274 2429L260 2433L236 2443L210 2458L202 2462L196 2464L190 2465L186 2464L180 2463L176 2460L172 2456L169 2448L167 2440L166 2430L166 2418L168 2408L170 2398L174 2390L182 2376L186 2370L190 2364L197 2360L208 2351L214 2348L220 2347ZM726 2354L740 2352L748 2352L752 2353L754 2356L756 2364L761 2374L762 2378L761 2384L759 2390L752 2397L747 2406L742 2410L737 2414L732 2416L726 2417L710 2419L694 2418L680 2419L678 2419L676 2418L675 2414L674 2410L674 2402L674 2396L676 2387L681 2380L689 2372L700 2363L712 2357ZM482 2458L488 2457L492 2458L496 2459L500 2462L503 2464L505 2468L507 2472L507 2476L507 2480L505 2484L502 2488L498 2491L494 2493L490 2495L486 2497L480 2497L473 2495L466 2492L460 2486L458 2482L458 2480L459 2474L462 2470L464 2467L472 2461L476 2459Z"/>
<path fill="#ff9400" fill-rule="evenodd" d="M237 2356L246 2354L250 2354L276 2357L280 2359L284 2361L288 2366L290 2372L290 2376L290 2384L287 2394L284 2398L279 2404L272 2408L263 2412L224 2422L214 2425L210 2425L205 2424L202 2422L198 2418L196 2414L194 2408L193 2402L194 2396L196 2388L199 2382L201 2378L206 2372L212 2366L217 2362L222 2359ZM714 2376L718 2375L723 2378L727 2382L728 2386L728 2390L726 2392L722 2396L716 2397L712 2397L707 2396L704 2393L703 2390L704 2386L706 2381L710 2378Z"/>
</g>
<use href="#coast" transform="translate(0,1970)"/>
</g>
<rect x="58.5" y="2083.5" width="1371" height="675" fill="none" stroke="#000" stroke-width="3.2"/>
<rect x="58.50" y="2801.5" width="137.40" height="67.5" fill="#0000b6"/>
<rect x="195.60" y="2801.5" width="137.40" height="67.5" fill="#0018ff"/>
<rect x="332.70" y="2801.5" width="137.40" height="67.5" fill="#0080ff"/>
<rect x="469.80" y="2801.5" width="137.40" height="67.5" fill="#00e4f8"/>
<rect x="606.90" y="2801.5" width="137.40" height="67.5" fill="#53ffa4"/>
<rect x="744.00" y="2801.5" width="137.40" height="67.5" fill="#a4ff53"/>
<rect x="881.10" y="2801.5" width="137.40" height="67.5" fill="#f8f500"/>
<rect x="1018.20" y="2801.5" width="137.40" height="67.5" fill="#ff9400"/>
<rect x="1155.30" y="2801.5" width="137.40" height="67.5" fill="#ff3800"/>
<rect x="1292.40" y="2801.5" width="137.40" height="67.5" fill="#b60000"/>
<rect x="58.5" y="2801.5" width="1371" height="67.5" fill="none" stroke="#000" stroke-width="3.1"/>
<line x1="58.50" x2="58.50" y1="2869" y2="2884" stroke="#000" stroke-width="3.2"/>
<text x="58.50" y="2931" class="tl">0</text>
<line x1="332.70" x2="332.70" y1="2869" y2="2884" stroke="#000" stroke-width="3.2"/>
<text x="332.70" y="2931" class="tl">5</text>
<line x1="606.90" x2="606.90" y1="2869" y2="2884" stroke="#000" stroke-width="3.2"/>
<text x="606.90" y="2931" class="tl">10</text>
<line x1="881.10" x2="881.10" y1="2869" y2="2884" stroke="#000" stroke-width="3.2"/>
<text x="881.10" y="2931" class="tl">15</text>
<line x1="1155.30" x2="1155.30" y1="2869" y2="2884" stroke="#000" stroke-width="3.2"/>
<text x="1155.30" y="2931" class="tl">20</text>
<line x1="1429.50" x2="1429.50" y1="2869" y2="2884" stroke="#000" stroke-width="3.2"/>
<text x="1429.50" y="2931" class="tl">25</text></svg>
</body></html>
